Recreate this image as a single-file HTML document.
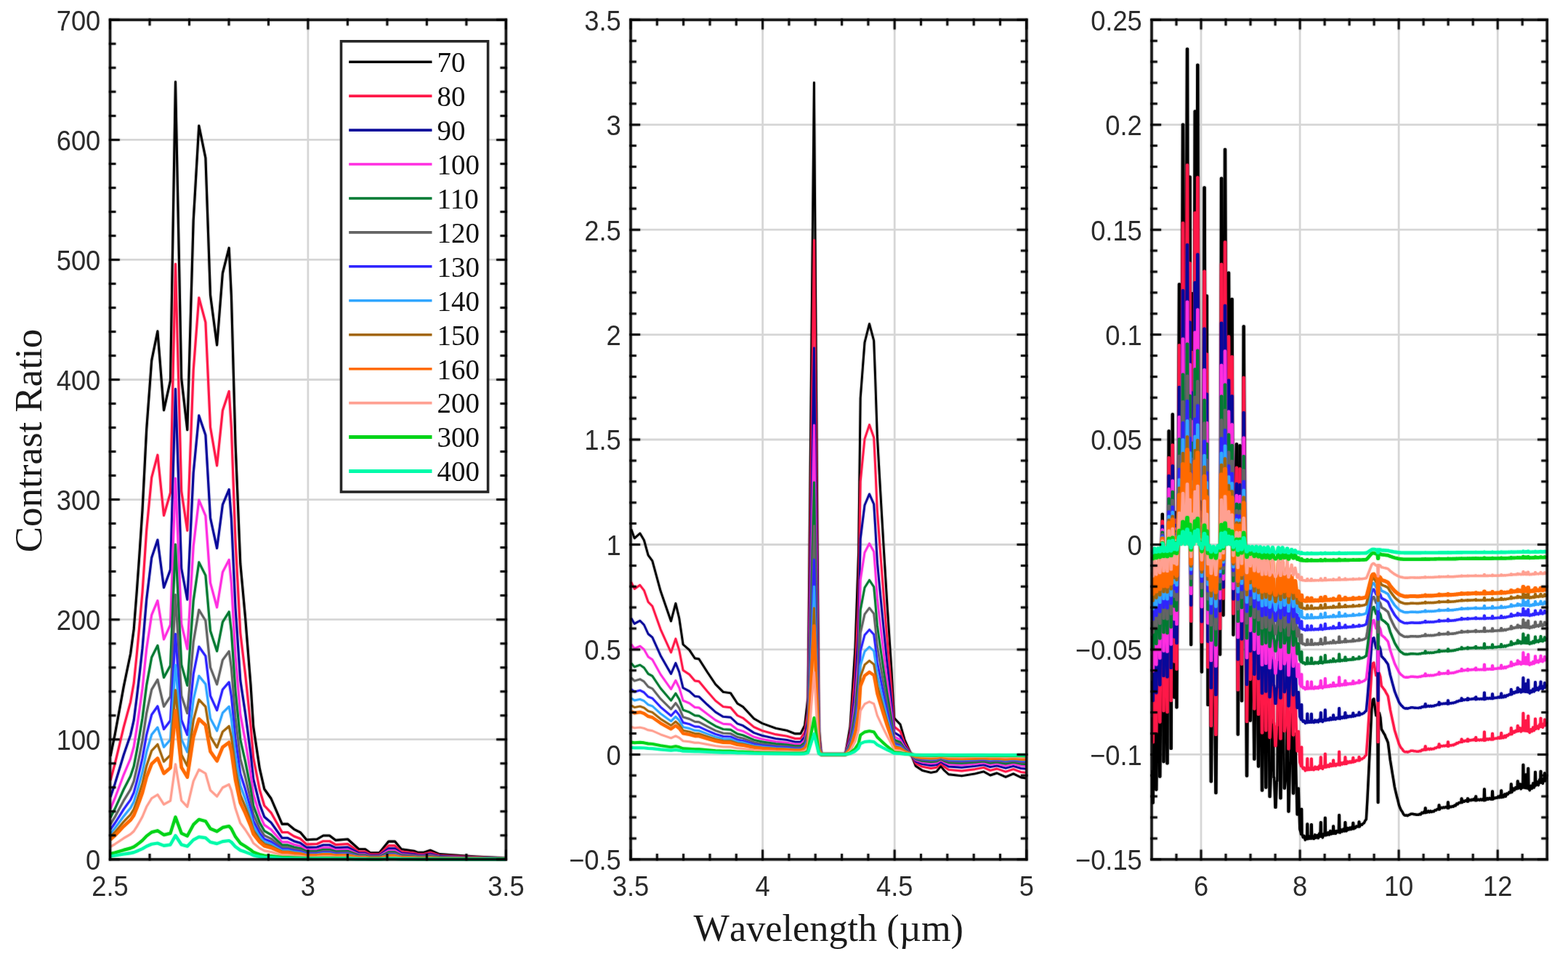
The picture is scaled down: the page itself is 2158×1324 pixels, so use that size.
<!DOCTYPE html>
<html lang="en"><head><meta charset="utf-8"><title>Contrast Ratio vs Wavelength</title>
<style>
html,body{margin:0;padding:0;background:#fff;}
body{width:2158px;height:1324px;overflow:hidden;position:relative;}
svg{position:absolute;left:0;top:0;display:block;}
.fr{filter:drop-shadow(0 0 1px rgba(0,0,0,.55));}
.tk{font-family:"Liberation Sans",Arial,Helvetica,sans-serif;font-size:38px;fill:#2b2b2b;}
.lg{font-family:"Liberation Serif","Times New Roman",Times,serif;font-size:39px;fill:#111;}
.al{font-family:"Liberation Serif","Times New Roman",Times,serif;font-size:53px;fill:#1a1a1a;font-kerning:none;}
.c{fill:none;stroke-linejoin:round;stroke-linecap:butt;}
.g{stroke:#000;stroke-opacity:.16;stroke-width:2.8;fill:none;}
.ax{stroke:#000;stroke-opacity:.84;stroke-width:3.5;fill:none;}
.t{stroke:#000;stroke-opacity:.86;stroke-width:3;fill:none;}
</style></head><body>
<svg width="2158" height="1324" viewBox="0 0 2158 1324">
<rect x="0" y="0" width="2158" height="1324" fill="#ffffff"/>
<path class="g" d="M423.9,27.3V1182.8M151.5,1017.7H696.4M151.5,852.7H696.4M151.5,687.6H696.4M151.5,522.5H696.4M151.5,357.4H696.4M151.5,192.4H696.4"/>
<clipPath id="cp0"><rect x="150.5" y="26.3" width="546.9" height="1159"/></clipPath>
<g class="c" clip-path="url(#cp0)">
<path stroke="#000000" stroke-width="3.1" style="filter:drop-shadow(0 0 1px #00000070)" d="M152,1040.8 158.1,1011.1 164.2,978.1 170.2,945.1 175,922 179.6,900 184.2,865.9 188.3,813.5 192,761.9 196,702.4 201.7,590.7 208.7,496.1 216.9,455.8 225.5,564.6 234.5,523.8 241.5,112.6 249.7,521 257.8,591.7 266.2,303.4 273.8,173 282.9,217.4 289.5,406 298.6,475 306.4,376 315.2,341.2 318.4,407 324,610 330.8,775.7 337.6,849.9 345,942.3 348.7,1000 353,1028.7 357.3,1057.4 363.8,1086 373.1,1099 388.2,1134.1 396.1,1134.1 404.7,1141.3 413.3,1145.6 421.9,1155.7 436.3,1155 444.9,1150 453.5,1150 462.1,1156.4 478.6,1155 493.6,1168.5 502.7,1168.8 509.5,1173.7 522.1,1173.7 534.8,1158.1 543.5,1158.1 552.3,1168.8 569.8,1171.3 574.7,1173.2 583.4,1173.2 592.2,1170.3 604.8,1175.6 626.2,1177.1 655.4,1179 684.6,1180.5 696,1181.5"/>
<path stroke="#ff1848" stroke-width="3.1" style="filter:drop-shadow(0 0 1px #ff184870)" d="M152,1074.1 158.1,1051.4 164.2,1026.1 170.2,1000.8 175,983.1 179.6,966.3 184.2,940.1 188.3,900.1 192,860.5 196,815 201.7,729.5 208.7,657.1 216.9,626.2 225.5,709.5 234.5,678.3 241.5,363.4 249.7,676.1 257.8,730.2 266.2,509.5 273.8,409.7 282.9,443.7 289.5,588.1 298.6,640.9 306.4,565.1 315.2,538.5 318.4,588.8 324,744.3 330.8,871.1 337.6,927.9 345,998.7 348.7,1042.8 353,1064.8 357.3,1086.8 363.8,1108.7 373.1,1118.6 388.2,1145.5 396.1,1145.5 404.7,1151 413.3,1154.3 421.9,1162.1 436.3,1161.5 444.9,1157.7 453.5,1157.7 462.1,1162.6 478.6,1161.5 493.6,1171.9 502.7,1172.1 509.5,1175.8 522.1,1175.8 534.8,1163.9 543.5,1163.9 552.3,1172.1 569.8,1174 574.7,1175.5 583.4,1175.5 592.2,1173.2 604.8,1177.3 626.2,1178.4 655.4,1179.9 684.6,1181 696,1181.8"/>
<path stroke="#08089a" stroke-width="3.1" style="filter:drop-shadow(0 0 1px #08089a70)" d="M152,1096.9 158.1,1078.9 164.2,1059 170.2,1039 175,1025 179.6,1011.7 184.2,991.1 188.3,959.4 192,928.2 196,892.2 201.7,824.6 208.7,767.4 216.9,743 225.5,808.8 234.5,784.1 241.5,535.4 249.7,782.5 257.8,825.2 266.2,650.8 273.8,571.9 282.9,598.8 289.5,712.9 298.6,754.6 306.4,694.7 315.2,673.7 318.4,713.5 324,836.3 330.8,936.6 337.6,981.4 345,1037.3 348.7,1072.2 353,1089.6 357.3,1106.9 363.8,1124.2 373.1,1132.1 388.2,1153.3 396.1,1153.3 404.7,1157.7 413.3,1160.3 421.9,1166.4 436.3,1166 444.9,1163 453.5,1163 462.1,1166.8 478.6,1166 493.6,1174.1 502.7,1174.3 509.5,1177.3 522.1,1177.3 534.8,1167.9 543.5,1167.9 552.3,1174.3 569.8,1175.8 574.7,1177 583.4,1177 592.2,1175.2 604.8,1178.4 626.2,1179.4 655.4,1180.5 684.6,1181.4 696,1182"/>
<path stroke="#ff2ee0" stroke-width="3.1" style="filter:drop-shadow(0 0 1px #ff2ee070)" d="M152,1113.2 158.1,1098.7 164.2,1082.5 170.2,1066.3 175,1055 179.6,1044.2 184.2,1027.5 188.3,1001.9 192,976.5 196,947.4 201.7,892.7 208.7,846.3 216.9,826.6 225.5,879.9 234.5,859.9 241.5,658.4 249.7,858.5 257.8,893.2 266.2,751.9 273.8,688 282.9,709.8 289.5,802.2 298.6,836 306.4,787.5 315.2,770.4 318.4,802.6 324,902.1 330.8,983.3 337.6,1019.7 345,1065 348.7,1093.2 353,1107.3 357.3,1121.4 363.8,1135.4 373.1,1141.7 388.2,1158.9 396.1,1158.9 404.7,1162.5 413.3,1164.6 421.9,1169.5 436.3,1169.2 444.9,1166.7 453.5,1166.7 462.1,1169.9 478.6,1169.2 493.6,1175.8 502.7,1175.9 509.5,1178.3 522.1,1178.3 534.8,1170.7 543.5,1170.7 552.3,1175.9 569.8,1177.2 574.7,1178.1 583.4,1178.1 592.2,1176.7 604.8,1179.3 626.2,1180 655.4,1180.9 684.6,1181.7 696,1182.2"/>
<path stroke="#007a32" stroke-width="3.1" style="filter:drop-shadow(0 0 1px #007a3270)" d="M152,1125.3 158.1,1113.3 164.2,1099.9 170.2,1086.5 175,1077.2 179.6,1068.3 184.2,1054.5 188.3,1033.3 192,1012.3 196,988.3 201.7,943 208.7,904.7 216.9,888.4 225.5,932.5 234.5,915.9 241.5,749.4 249.7,914.8 257.8,943.4 266.2,826.7 273.8,773.9 282.9,791.9 289.5,868.2 298.6,896.2 306.4,856.1 315.2,842 318.4,868.6 324,950.8 330.8,1018 337.6,1048 345,1085.4 348.7,1108.8 353,1120.4 357.3,1132 363.8,1143.6 373.1,1148.9 388.2,1163.1 396.1,1163.1 404.7,1166 413.3,1167.7 421.9,1171.8 436.3,1171.5 444.9,1169.5 453.5,1169.5 462.1,1172.1 478.6,1171.5 493.6,1177 502.7,1177.1 509.5,1179.1 522.1,1179.1 534.8,1172.8 543.5,1172.8 552.3,1177.1 569.8,1178.1 574.7,1178.9 583.4,1178.9 592.2,1177.7 604.8,1179.9 626.2,1180.5 655.4,1181.3 684.6,1181.9 696,1182.3"/>
<path stroke="#646464" stroke-width="3.1" style="filter:drop-shadow(0 0 1px #64646470)" d="M152,1134.5 158.1,1124.4 164.2,1113.1 170.2,1101.9 175,1094.1 179.6,1086.6 184.2,1075 188.3,1057.1 192,1039.6 196,1019.3 201.7,981.3 208.7,949.1 216.9,935.4 225.5,972.4 234.5,958.6 241.5,818.6 249.7,957.6 257.8,981.7 266.2,883.6 273.8,839.2 282.9,854.3 289.5,918.5 298.6,942 306.4,908.3 315.2,896.4 318.4,918.8 324,987.9 330.8,1044.3 337.6,1069.5 345,1101 348.7,1120.6 353,1130.4 357.3,1140.1 363.8,1149.9 373.1,1154.3 388.2,1166.2 396.1,1166.2 404.7,1168.7 413.3,1170.1 421.9,1173.6 436.3,1173.3 444.9,1171.6 453.5,1171.6 462.1,1173.8 478.6,1173.3 493.6,1177.9 502.7,1178 509.5,1179.7 522.1,1179.7 534.8,1174.4 543.5,1174.4 552.3,1178 569.8,1178.9 574.7,1179.5 583.4,1179.5 592.2,1178.5 604.8,1180.3 626.2,1180.9 655.4,1181.5 684.6,1182 696,1182.4"/>
<path stroke="#2e24ff" stroke-width="3.1" style="filter:drop-shadow(0 0 1px #2e24ff70)" d="M152,1141.6 158.1,1133 164.2,1123.5 170.2,1113.9 175,1107.2 179.6,1100.8 184.2,1090.9 188.3,1075.7 192,1060.8 196,1043.5 201.7,1011.1 208.7,983.7 216.9,972 225.5,1003.6 234.5,991.7 241.5,872.5 249.7,990.9 257.8,1011.4 266.2,927.8 273.8,890 282.9,902.9 289.5,957.6 298.6,977.6 306.4,948.9 315.2,938.8 318.4,957.9 324,1016.7 330.8,1064.8 337.6,1086.3 345,1113.1 348.7,1129.8 353,1138.1 357.3,1146.4 363.8,1154.7 373.1,1158.5 388.2,1168.7 396.1,1168.7 404.7,1170.8 413.3,1172 421.9,1174.9 436.3,1174.7 444.9,1173.3 453.5,1173.3 462.1,1175.1 478.6,1174.7 493.6,1178.7 502.7,1178.7 509.5,1180.2 522.1,1180.2 534.8,1175.6 543.5,1175.6 552.3,1178.7 569.8,1179.5 574.7,1180 583.4,1180 592.2,1179.2 604.8,1180.7 626.2,1181.1 655.4,1181.7 684.6,1182.1 696,1182.4"/>
<path stroke="#30a6ff" stroke-width="3.1" style="filter:drop-shadow(0 0 1px #30a6ff70)" d="M152,1147.3 158.1,1139.9 164.2,1131.6 170.2,1123.4 175,1117.6 179.6,1112.1 184.2,1103.6 188.3,1090.5 192,1077.6 196,1062.7 201.7,1034.8 208.7,1011.1 216.9,1001.1 225.5,1028.2 234.5,1018 241.5,915.2 249.7,1017.3 257.8,1035 266.2,962.9 273.8,930.3 282.9,941.4 289.5,988.6 298.6,1005.8 306.4,981.1 315.2,972.4 318.4,988.8 324,1039.6 330.8,1081 337.6,1099.6 345,1122.7 348.7,1137.1 353,1144.3 357.3,1151.5 363.8,1158.6 373.1,1161.8 388.2,1170.6 396.1,1170.6 404.7,1172.4 413.3,1173.5 421.9,1176 436.3,1175.8 444.9,1174.6 453.5,1174.6 462.1,1176.2 478.6,1175.8 493.6,1179.2 502.7,1179.3 509.5,1180.5 522.1,1180.5 534.8,1176.6 543.5,1176.6 552.3,1179.3 569.8,1179.9 574.7,1180.4 583.4,1180.4 592.2,1179.7 604.8,1181 626.2,1181.4 655.4,1181.8 684.6,1182.2 696,1182.5"/>
<path stroke="#a2660c" stroke-width="3.1" style="filter:drop-shadow(0 0 1px #a2660c70)" d="M152,1151.9 158.1,1145.4 164.2,1138.2 170.2,1131 175,1126 179.6,1121.2 184.2,1113.8 188.3,1102.4 192,1091.1 196,1078.2 201.7,1053.9 208.7,1033.3 216.9,1024.5 225.5,1048.2 234.5,1039.3 241.5,949.7 249.7,1038.7 257.8,1054.1 266.2,991.3 273.8,962.9 282.9,972.6 289.5,1013.6 298.6,1028.7 306.4,1007.1 315.2,999.5 318.4,1013.8 324,1058.1 330.8,1094.2 337.6,1110.3 345,1130.4 348.7,1143 353,1149.2 357.3,1155.5 363.8,1161.7 373.1,1164.6 388.2,1172.2 396.1,1172.2 404.7,1173.8 413.3,1174.7 421.9,1176.9 436.3,1176.7 444.9,1175.7 453.5,1175.7 462.1,1177.1 478.6,1176.7 493.6,1179.7 502.7,1179.8 509.5,1180.8 522.1,1180.8 534.8,1177.4 543.5,1177.4 552.3,1179.8 569.8,1180.3 574.7,1180.7 583.4,1180.7 592.2,1180.1 604.8,1181.2 626.2,1181.6 655.4,1182 684.6,1182.3 696,1182.5"/>
<path stroke="#ff6a00" stroke-width="4.5" style="filter:drop-shadow(0 0 1px #ff6a0070)" d="M152,1155.6 158.1,1149.9 164.2,1143.6 170.2,1137.3 175,1132.9 179.6,1128.7 184.2,1122.1 188.3,1112.1 192,1102.2 196,1090.9 201.7,1069.5 208.7,1051.4 216.9,1043.7 225.5,1064.5 234.5,1056.7 241.5,978 249.7,1056.1 257.8,1069.7 266.2,1014.5 273.8,989.5 282.9,998 289.5,1034.1 298.6,1047.3 306.4,1028.4 315.2,1021.7 318.4,1034.3 324,1073.2 330.8,1104.9 337.6,1119.1 345,1136.8 348.7,1147.8 353,1153.3 357.3,1158.8 363.8,1164.3 373.1,1166.8 388.2,1173.5 396.1,1173.5 404.7,1174.9 413.3,1175.7 421.9,1177.6 436.3,1177.5 444.9,1176.5 453.5,1176.5 462.1,1177.7 478.6,1177.5 493.6,1180.1 502.7,1180.1 509.5,1181.1 522.1,1181.1 534.8,1178.1 543.5,1178.1 552.3,1180.1 569.8,1180.6 574.7,1181 583.4,1181 592.2,1180.4 604.8,1181.4 626.2,1181.7 655.4,1182.1 684.6,1182.4 696,1182.6"/>
<path stroke="#ffa091" stroke-width="3.1" style="filter:drop-shadow(0 0 1px #ffa09170)" d="M152,1165.4 158.1,1161.8 164.2,1157.7 170.2,1153.7 175,1150.9 179.6,1148.2 184.2,1144 188.3,1137.6 192,1131.2 196,1124 201.7,1110.3 208.7,1098.7 216.9,1093.7 225.5,1107.1 234.5,1102.1 241.5,1051.7 249.7,1101.7 257.8,1110.4 266.2,1075.1 273.8,1059.1 282.9,1064.5 289.5,1087.6 298.6,1096.1 306.4,1084 315.2,1079.7 318.4,1087.8 324,1112.6 330.8,1132.9 337.6,1142 345,1153.3 348.7,1160.4 353,1163.9 357.3,1167.4 363.8,1170.9 373.1,1172.5 388.2,1176.8 396.1,1176.8 404.7,1177.7 413.3,1178.2 421.9,1179.5 436.3,1179.4 444.9,1178.8 453.5,1178.8 462.1,1179.6 478.6,1179.4 493.6,1181 502.7,1181.1 509.5,1181.7 522.1,1181.7 534.8,1179.8 543.5,1179.8 552.3,1181.1 569.8,1181.4 574.7,1181.6 583.4,1181.6 592.2,1181.3 604.8,1181.9 626.2,1182.1 655.4,1182.3 684.6,1182.5 696,1182.6"/>
<path stroke="#00d418" stroke-width="4.2" style="filter:drop-shadow(0 0 1px #00d41870)" d="M152,1175.1 158.1,1173.5 164.2,1171.7 170.2,1169.9 175,1168.6 179.6,1167.4 184.2,1165.5 188.3,1162.7 192,1159.9 196,1156.6 201.7,1150.6 208.7,1145.4 216.9,1143.2 225.5,1149.1 234.5,1146.9 241.5,1124.5 249.7,1146.8 257.8,1150.6 266.2,1134.9 273.8,1127.8 282.9,1130.2 289.5,1140.5 298.6,1144.3 306.4,1138.9 315.2,1137 318.4,1140.6 324,1151.6 330.8,1160.6 337.6,1164.7 345,1169.7 348.7,1172.8 353,1174.4 357.3,1176 363.8,1177.5 373.1,1178.2 388.2,1180.1 396.1,1180.1 404.7,1180.5 413.3,1180.8 421.9,1181.3 436.3,1181.3 444.9,1181 453.5,1181 462.1,1181.4 478.6,1181.3 493.6,1182 502.7,1182 509.5,1182.3 522.1,1182.3 534.8,1181.5 543.5,1181.5 552.3,1182 569.8,1182.2 574.7,1182.3 583.4,1182.3 592.2,1182.1 604.8,1182.4 626.2,1182.5 655.4,1182.6 684.6,1182.7 696,1182.7"/>
<path stroke="#00fbaa" stroke-width="4.2" style="filter:drop-shadow(0 0 1px #00fbaa70)" d="M152,1178.5 158.1,1177.5 164.2,1176.5 170.2,1175.5 175,1174.8 179.6,1174.1 184.2,1173.1 188.3,1171.5 192,1169.9 196,1168.1 201.7,1164.7 208.7,1161.8 216.9,1160.5 225.5,1163.9 234.5,1162.6 241.5,1150 249.7,1162.5 257.8,1164.7 266.2,1155.9 273.8,1151.9 282.9,1153.2 289.5,1159 298.6,1161.1 306.4,1158.1 315.2,1157 318.4,1159 324,1165.3 330.8,1170.3 337.6,1172.6 345,1175.4 348.7,1177.2 353,1178.1 357.3,1179 363.8,1179.8 373.1,1180.2 388.2,1181.3 396.1,1181.3 404.7,1181.5 413.3,1181.7 421.9,1182 436.3,1181.9 444.9,1181.8 453.5,1181.8 462.1,1182 478.6,1181.9 493.6,1182.4 502.7,1182.4 509.5,1182.5 522.1,1182.5 534.8,1182 543.5,1182 552.3,1182.4 569.8,1182.4 574.7,1182.5 583.4,1182.5 592.2,1182.4 604.8,1182.6 626.2,1182.6 655.4,1182.7 684.6,1182.7 696,1182.8"/>
</g>
<g class="fr"><path class="t" d="M151.5,1184.5v-14.9M151.5,25.6v14.9M206,1184.5v-9.6M206,25.6v9.6M260.5,1184.5v-9.6M260.5,25.6v9.6M315,1184.5v-9.6M315,25.6v9.6M369.5,1184.5v-9.6M369.5,25.6v9.6M423.9,1184.5v-14.9M423.9,25.6v14.9M478.4,1184.5v-9.6M478.4,25.6v9.6M532.9,1184.5v-9.6M532.9,25.6v9.6M587.4,1184.5v-9.6M587.4,25.6v9.6M641.9,1184.5v-9.6M641.9,25.6v9.6M696.4,1184.5v-14.9M696.4,25.6v14.9M149.8,1182.8h14.9M698.1,1182.8h-14.9M149.8,1149.8h9.6M698.1,1149.8h-9.6M149.8,1116.8h9.6M698.1,1116.8h-9.6M149.8,1083.8h9.6M698.1,1083.8h-9.6M149.8,1050.7h9.6M698.1,1050.7h-9.6M149.8,1017.7h14.9M698.1,1017.7h-14.9M149.8,984.7h9.6M698.1,984.7h-9.6M149.8,951.7h9.6M698.1,951.7h-9.6M149.8,918.7h9.6M698.1,918.7h-9.6M149.8,885.7h9.6M698.1,885.7h-9.6M149.8,852.7h14.9M698.1,852.7h-14.9M149.8,819.6h9.6M698.1,819.6h-9.6M149.8,786.6h9.6M698.1,786.6h-9.6M149.8,753.6h9.6M698.1,753.6h-9.6M149.8,720.6h9.6M698.1,720.6h-9.6M149.8,687.6h14.9M698.1,687.6h-14.9M149.8,654.6h9.6M698.1,654.6h-9.6M149.8,621.6h9.6M698.1,621.6h-9.6M149.8,588.5h9.6M698.1,588.5h-9.6M149.8,555.5h9.6M698.1,555.5h-9.6M149.8,522.5h14.9M698.1,522.5h-14.9M149.8,489.5h9.6M698.1,489.5h-9.6M149.8,456.5h9.6M698.1,456.5h-9.6M149.8,423.5h9.6M698.1,423.5h-9.6M149.8,390.5h9.6M698.1,390.5h-9.6M149.8,357.4h14.9M698.1,357.4h-14.9M149.8,324.4h9.6M698.1,324.4h-9.6M149.8,291.4h9.6M698.1,291.4h-9.6M149.8,258.4h9.6M698.1,258.4h-9.6M149.8,225.4h9.6M698.1,225.4h-9.6M149.8,192.4h14.9M698.1,192.4h-14.9M149.8,159.4h9.6M698.1,159.4h-9.6M149.8,126.3h9.6M698.1,126.3h-9.6M149.8,93.3h9.6M698.1,93.3h-9.6M149.8,60.3h9.6M698.1,60.3h-9.6M149.8,27.3h14.9M698.1,27.3h-14.9"/>
<rect class="ax" x="151.5" y="27.3" width="544.9" height="1155.5"/></g>
<text class="tk" text-anchor="middle" transform="translate(151.5,1232.7) scale(.955,1)">2.5</text>
<text class="tk" text-anchor="middle" transform="translate(423.9,1232.7) scale(.955,1)">3</text>
<text class="tk" text-anchor="middle" transform="translate(696.4,1232.7) scale(.955,1)">3.5</text>
<text class="tk" text-anchor="end" transform="translate(138.3,1197.1) scale(.955,1)">0</text>
<text class="tk" text-anchor="end" transform="translate(138.3,1032) scale(.955,1)">100</text>
<text class="tk" text-anchor="end" transform="translate(138.3,867) scale(.955,1)">200</text>
<text class="tk" text-anchor="end" transform="translate(138.3,701.9) scale(.955,1)">300</text>
<text class="tk" text-anchor="end" transform="translate(138.3,536.8) scale(.955,1)">400</text>
<text class="tk" text-anchor="end" transform="translate(138.3,371.7) scale(.955,1)">500</text>
<text class="tk" text-anchor="end" transform="translate(138.3,206.7) scale(.955,1)">600</text>
<text class="tk" text-anchor="end" transform="translate(138.3,41.6) scale(.955,1)">700</text>
<path class="g" d="M1049.6,27.3V1182.8M1231.2,27.3V1182.8M868,1038.4H1412.8M868,893.9H1412.8M868,749.5H1412.8M868,605H1412.8M868,460.6H1412.8M868,316.2H1412.8M868,171.7H1412.8"/>
<clipPath id="cp1"><rect x="867" y="26.3" width="546.8" height="1159"/></clipPath>
<g class="c" clip-path="url(#cp1)">
<path stroke="#000000" stroke-width="2.9" style="filter:drop-shadow(0 0 1px #00000070)" d="M868.7,728.3 873.2,740.8 880.8,734 886.4,743.5 892.1,764.2 897.8,771.8 909.1,813.3 923.5,855 929.9,830.4 934.8,851 940.1,887 948.8,894.6 956.3,906 962,907 973.3,924.8 984.7,941.8 995.3,952.4 1005.5,953.9 1014.9,968.3 1022.5,972.8 1037.6,989 1048.9,995.5 1067.8,1002.3 1082.9,1005.3 1094.3,1009.8 1101.8,1009.8 1107.5,998.5 1112,960 1120.4,113.6 1127,1000 1130.2,1038.2 1163.5,1038 1170,1000 1177,891 1181.6,760 1184.2,548 1190,471.3 1196.5,445.7 1202.7,468.8 1204.7,522.7 1207.3,599.7 1211.7,676.7 1216,750 1220.9,830.7 1226.9,921 1230.6,987.8 1233,990.8 1239,996.9 1245,1018 1254.1,1038.3 1260.2,1054.3 1269.2,1060.3 1281.3,1063.4 1288.9,1061.8 1294.9,1054.3 1299.5,1060.3 1305.5,1065.8 1323.6,1067.9 1341.8,1064.9 1353.9,1061.9 1362.9,1067 1372,1064 1384.1,1069.4 1394.7,1064.9 1405.2,1070 1412,1071"/>
<path stroke="#ff1848" stroke-width="2.9" style="filter:drop-shadow(0 0 1px #ff184870)" d="M868.7,801 873.2,810.5 880.8,805.3 886.4,812.6 892.1,828.5 897.8,834.3 909.1,866.1 923.5,898 929.9,879.1 934.8,894.9 940.1,922.5 948.8,928.3 956.3,937 962,937.8 973.3,951.4 984.7,964.4 995.3,972.6 1005.5,973.7 1014.9,984.7 1022.5,988.2 1037.6,1000.6 1048.9,1005.6 1067.8,1010.8 1082.9,1013.1 1094.3,1016.5 1101.8,1016.5 1107.5,1007.9 1112,978.4 1120.4,330.4 1127,1009 1130.2,1038.2 1163.5,1038.1 1170,1009 1177,925.5 1181.6,825.2 1184.2,662.9 1190,604.2 1196.5,584.6 1202.7,602.3 1204.7,643.6 1207.3,702.5 1211.7,761.5 1216,817.6 1220.9,879.4 1226.9,948.5 1230.6,999.7 1233,1002 1239,1006.6 1245,1022.8 1254.1,1038.3 1260.2,1050.6 1269.2,1055.2 1281.3,1057.5 1288.9,1056.3 1294.9,1050.6 1299.5,1055.2 1305.5,1059.4 1323.6,1061 1341.8,1058.7 1353.9,1056.4 1362.9,1060.3 1372,1058 1384.1,1062.1 1394.7,1058.7 1405.2,1062.6 1412,1063.4"/>
<path stroke="#08089a" stroke-width="2.9" style="filter:drop-shadow(0 0 1px #08089a70)" d="M868.7,850.8 873.2,858.4 880.8,854.3 886.4,860 892.1,872.5 897.8,877.1 909.1,902.2 923.5,927.5 929.9,912.6 934.8,925 940.1,946.8 948.8,951.4 956.3,958.3 962,958.9 973.3,969.7 984.7,980 995.3,986.4 1005.5,987.3 1014.9,996 1022.5,998.7 1037.6,1008.5 1048.9,1012.4 1067.8,1016.6 1082.9,1018.4 1094.3,1021.1 1101.8,1021.1 1107.5,1014.3 1112,991 1120.4,479 1127,1015.2 1130.2,1038.3 1163.5,1038.2 1170,1015.2 1177,949.2 1181.6,870 1184.2,741.7 1190,695.3 1196.5,679.9 1202.7,693.8 1204.7,726.4 1207.3,773 1211.7,819.6 1216,863.9 1220.9,912.8 1226.9,967.4 1230.6,1007.8 1233,1009.6 1239,1013.3 1245,1026.1 1254.1,1038.3 1260.2,1048 1269.2,1051.6 1281.3,1053.5 1288.9,1052.6 1294.9,1048 1299.5,1051.6 1305.5,1055 1323.6,1056.2 1341.8,1054.4 1353.9,1052.6 1362.9,1055.7 1372,1053.9 1384.1,1057.2 1394.7,1054.4 1405.2,1057.5 1412,1058.1"/>
<path stroke="#ff2ee0" stroke-width="2.9" style="filter:drop-shadow(0 0 1px #ff2ee070)" d="M868.7,886.5 873.2,892.6 880.8,889.2 886.4,893.9 892.1,904 897.8,907.8 909.1,928.1 923.5,948.5 929.9,936.5 934.8,946.6 940.1,964.2 948.8,967.9 956.3,973.5 962,974 973.3,982.7 984.7,991.1 995.3,996.3 1005.5,997 1014.9,1004.1 1022.5,1006.3 1037.6,1014.2 1048.9,1017.4 1067.8,1020.7 1082.9,1022.2 1094.3,1024.4 1101.8,1024.4 1107.5,1018.8 1112,1000 1120.4,585.2 1127,1019.6 1130.2,1038.3 1163.5,1038.2 1170,1019.6 1177,966.2 1181.6,902 1184.2,798.1 1190,760.5 1196.5,748 1202.7,759.3 1204.7,785.7 1207.3,823.4 1211.7,861.2 1216,897.1 1220.9,936.6 1226.9,980.9 1230.6,1013.6 1233,1015.1 1239,1018.1 1245,1028.4 1254.1,1038.4 1260.2,1046.2 1269.2,1049.1 1281.3,1050.7 1288.9,1049.9 1294.9,1046.2 1299.5,1049.1 1305.5,1051.8 1323.6,1052.9 1341.8,1051.4 1353.9,1049.9 1362.9,1052.4 1372,1050.9 1384.1,1053.6 1394.7,1051.4 1405.2,1053.9 1412,1054.4"/>
<path stroke="#007a32" stroke-width="2.9" style="filter:drop-shadow(0 0 1px #007a3270)" d="M868.7,912.8 873.2,917.9 880.8,915.1 886.4,919 892.1,927.4 897.8,930.4 909.1,947.2 923.5,964.1 929.9,954.2 934.8,962.5 940.1,977.1 948.8,980.2 956.3,984.8 962,985.2 973.3,992.4 984.7,999.3 995.3,1003.6 1005.5,1004.2 1014.9,1010 1022.5,1011.8 1037.6,1018.4 1048.9,1021 1067.8,1023.8 1082.9,1025 1094.3,1026.8 1101.8,1026.8 1107.5,1022.2 1112,1006.7 1120.4,663.9 1127,1022.8 1130.2,1038.3 1163.5,1038.2 1170,1022.8 1177,978.7 1181.6,925.7 1184.2,839.8 1190,808.7 1196.5,798.4 1202.7,807.7 1204.7,829.6 1207.3,860.7 1211.7,891.9 1216,921.6 1220.9,954.3 1226.9,990.9 1230.6,1017.9 1233,1019.1 1239,1021.6 1245,1030.1 1254.1,1038.4 1260.2,1044.8 1269.2,1047.3 1281.3,1048.5 1288.9,1047.9 1294.9,1044.8 1299.5,1047.3 1305.5,1049.5 1323.6,1050.3 1341.8,1049.1 1353.9,1047.9 1362.9,1050 1372,1048.8 1384.1,1051 1394.7,1049.1 1405.2,1051.2 1412,1051.6"/>
<path stroke="#646464" stroke-width="2.9" style="filter:drop-shadow(0 0 1px #64646470)" d="M868.7,932.9 873.2,937.1 880.8,934.8 886.4,938.1 892.1,945.1 897.8,947.7 909.1,961.8 923.5,976 929.9,967.6 934.8,974.6 940.1,986.9 948.8,989.5 956.3,993.3 962,993.7 973.3,999.7 984.7,1005.5 995.3,1009.1 1005.5,1009.6 1014.9,1014.5 1022.5,1016.1 1037.6,1021.6 1048.9,1023.8 1067.8,1026.1 1082.9,1027.1 1094.3,1028.7 1101.8,1028.7 1107.5,1024.8 1112,1011.7 1120.4,723.7 1127,1025.3 1130.2,1038.3 1163.5,1038.3 1170,1025.3 1177,988.2 1181.6,943.7 1184.2,871.5 1190,845.4 1196.5,836.7 1202.7,844.6 1204.7,862.9 1207.3,889.1 1211.7,915.3 1216,940.3 1220.9,967.7 1226.9,998.5 1230.6,1021.2 1233,1022.2 1239,1024.3 1245,1031.5 1254.1,1038.4 1260.2,1043.8 1269.2,1045.9 1281.3,1046.9 1288.9,1046.4 1294.9,1043.8 1299.5,1045.9 1305.5,1047.7 1323.6,1048.4 1341.8,1047.4 1353.9,1046.4 1362.9,1048.1 1372,1047.1 1384.1,1048.9 1394.7,1047.4 1405.2,1049.2 1412,1049.5"/>
<path stroke="#2e24ff" stroke-width="2.9" style="filter:drop-shadow(0 0 1px #2e24ff70)" d="M868.7,948.5 873.2,952.1 880.8,950.1 886.4,952.9 892.1,958.9 897.8,961.1 909.1,973.1 923.5,985.2 929.9,978.1 934.8,984.1 940.1,994.5 948.8,996.7 956.3,1000 962,1000.3 973.3,1005.5 984.7,1010.4 995.3,1013.5 1005.5,1013.9 1014.9,1018.1 1022.5,1019.4 1037.6,1024.1 1048.9,1026 1067.8,1027.9 1082.9,1028.8 1094.3,1030.1 1101.8,1030.1 1107.5,1026.8 1112,1015.7 1120.4,770.3 1127,1027.3 1130.2,1038.3 1163.5,1038.3 1170,1027.3 1177,995.7 1181.6,957.7 1184.2,896.2 1190,874 1196.5,866.6 1202.7,873.2 1204.7,888.9 1207.3,911.2 1211.7,933.5 1216,954.8 1220.9,978.2 1226.9,1004.4 1230.6,1023.7 1233,1024.6 1239,1026.4 1245,1032.5 1254.1,1038.4 1260.2,1043 1269.2,1044.7 1281.3,1045.6 1288.9,1045.2 1294.9,1043 1299.5,1044.7 1305.5,1046.3 1323.6,1047 1341.8,1046.1 1353.9,1045.2 1362.9,1046.7 1372,1045.8 1384.1,1047.4 1394.7,1046.1 1405.2,1047.6 1412,1047.9"/>
<path stroke="#30a6ff" stroke-width="2.9" style="filter:drop-shadow(0 0 1px #30a6ff70)" d="M868.7,960.9 873.2,964 880.8,962.3 886.4,964.7 892.1,969.9 897.8,971.8 909.1,982.1 923.5,992.6 929.9,986.4 934.8,991.6 940.1,1000.6 948.8,1002.5 956.3,1005.3 962,1005.6 973.3,1010 984.7,1014.2 995.3,1016.9 1005.5,1017.3 1014.9,1020.9 1022.5,1022 1037.6,1026.1 1048.9,1027.7 1067.8,1029.4 1082.9,1030.1 1094.3,1031.2 1101.8,1031.2 1107.5,1028.4 1112,1018.8 1120.4,807.2 1127,1028.8 1130.2,1038.4 1163.5,1038.3 1170,1028.8 1177,1001.6 1181.6,968.8 1184.2,915.8 1190,896.6 1196.5,890.2 1202.7,896 1204.7,909.5 1207.3,928.7 1211.7,948 1216,966.3 1220.9,986.5 1226.9,1009.1 1230.6,1025.8 1233,1026.5 1239,1028 1245,1033.3 1254.1,1038.4 1260.2,1042.4 1269.2,1043.9 1281.3,1044.7 1288.9,1044.2 1294.9,1042.4 1299.5,1043.9 1305.5,1045.2 1323.6,1045.8 1341.8,1045 1353.9,1044.3 1362.9,1045.6 1372,1044.8 1384.1,1046.2 1394.7,1045 1405.2,1046.3 1412,1046.6"/>
<path stroke="#a2660c" stroke-width="2.9" style="filter:drop-shadow(0 0 1px #a2660c70)" d="M868.7,970.9 873.2,973.6 880.8,972.1 886.4,974.2 892.1,978.7 897.8,980.3 909.1,989.4 923.5,998.5 929.9,993.1 934.8,997.6 940.1,1005.4 948.8,1007.1 956.3,1009.6 962,1009.8 973.3,1013.7 984.7,1017.4 995.3,1019.7 1005.5,1020 1014.9,1023.1 1022.5,1024.1 1037.6,1027.6 1048.9,1029.1 1067.8,1030.5 1082.9,1031.2 1094.3,1032.2 1101.8,1032.2 1107.5,1029.7 1112,1021.3 1120.4,837 1127,1030 1130.2,1038.4 1163.5,1038.3 1170,1030 1177,1006.3 1181.6,977.8 1184.2,931.6 1190,914.9 1196.5,909.3 1202.7,914.4 1204.7,926.1 1207.3,942.9 1211.7,959.6 1216,975.6 1220.9,993.2 1226.9,1012.8 1230.6,1027.4 1233,1028 1239,1029.4 1245,1034 1254.1,1038.4 1260.2,1041.9 1269.2,1043.2 1281.3,1043.8 1288.9,1043.5 1294.9,1041.9 1299.5,1043.2 1305.5,1044.4 1323.6,1044.8 1341.8,1044.2 1353.9,1043.5 1362.9,1044.6 1372,1044 1384.1,1045.2 1394.7,1044.2 1405.2,1045.3 1412,1045.5"/>
<path stroke="#ff6a00" stroke-width="4.2" style="filter:drop-shadow(0 0 1px #ff6a0070)" d="M868.7,979 873.2,981.4 880.8,980.1 886.4,982 892.1,985.9 897.8,987.4 909.1,995.3 923.5,1003.3 929.9,998.6 934.8,1002.5 940.1,1009.4 948.8,1010.9 956.3,1013.1 962,1013.2 973.3,1016.7 984.7,1019.9 995.3,1021.9 1005.5,1022.2 1014.9,1025 1022.5,1025.8 1037.6,1028.9 1048.9,1030.2 1067.8,1031.5 1082.9,1032.1 1094.3,1032.9 1101.8,1032.9 1107.5,1030.8 1112,1023.4 1120.4,861.4 1127,1031.1 1130.2,1038.4 1163.5,1038.3 1170,1031.1 1177,1010.2 1181.6,985.1 1184.2,944.5 1190,929.9 1196.5,925 1202.7,929.4 1204.7,939.7 1207.3,954.4 1211.7,969.2 1216,983.2 1220.9,998.6 1226.9,1015.9 1230.6,1028.7 1233,1029.3 1239,1030.5 1245,1034.5 1254.1,1038.4 1260.2,1041.4 1269.2,1042.6 1281.3,1043.2 1288.9,1042.9 1294.9,1041.4 1299.5,1042.6 1305.5,1043.6 1323.6,1044 1341.8,1043.5 1353.9,1042.9 1362.9,1043.9 1372,1043.3 1384.1,1044.3 1394.7,1043.5 1405.2,1044.4 1412,1044.6"/>
<path stroke="#ffa091" stroke-width="2.9" style="filter:drop-shadow(0 0 1px #ffa09170)" d="M868.7,1000.4 873.2,1001.9 880.8,1001.1 886.4,1002.3 892.1,1004.8 897.8,1005.7 909.1,1010.8 923.5,1015.9 929.9,1012.9 934.8,1015.4 940.1,1019.9 948.8,1020.8 956.3,1022.2 962,1022.3 973.3,1024.5 984.7,1026.6 995.3,1027.9 1005.5,1028 1014.9,1029.8 1022.5,1030.4 1037.6,1032.3 1048.9,1033.1 1067.8,1034 1082.9,1034.3 1094.3,1034.9 1101.8,1034.9 1107.5,1033.5 1112,1028.8 1120.4,925.1 1127,1033.7 1130.2,1038.4 1163.5,1038.4 1170,1033.7 1177,1020.3 1181.6,1004.3 1184.2,978.3 1190,968.9 1196.5,965.8 1202.7,968.6 1204.7,975.2 1207.3,984.7 1211.7,994.1 1216,1003.1 1220.9,1013 1226.9,1024 1230.6,1032.2 1233,1032.6 1239,1033.3 1245,1035.9 1254.1,1038.4 1260.2,1040.3 1269.2,1041.1 1281.3,1041.5 1288.9,1041.3 1294.9,1040.3 1299.5,1041.1 1305.5,1041.8 1323.6,1042 1341.8,1041.6 1353.9,1041.3 1362.9,1041.9 1372,1041.5 1384.1,1042.2 1394.7,1041.6 1405.2,1042.3 1412,1042.4"/>
<path stroke="#00d418" stroke-width="3.9" style="filter:drop-shadow(0 0 1px #00d41870)" d="M868.7,1021.5 873.2,1022.2 880.8,1021.8 886.4,1022.3 892.1,1023.5 897.8,1023.9 909.1,1026.1 923.5,1028.4 929.9,1027.1 934.8,1028.2 940.1,1030.2 948.8,1030.6 956.3,1031.2 962,1031.2 973.3,1032.2 984.7,1033.1 995.3,1033.7 1005.5,1033.8 1014.9,1034.6 1022.5,1034.8 1037.6,1035.7 1048.9,1036.1 1067.8,1036.4 1082.9,1036.6 1094.3,1036.8 1101.8,1036.8 1107.5,1036.2 1112,1034.1 1120.4,988 1127,1036.3 1130.2,1038.4 1163.5,1038.4 1170,1036.3 1177,1030.4 1181.6,1023.2 1184.2,1011.7 1190,1007.5 1196.5,1006.1 1202.7,1007.4 1204.7,1010.3 1207.3,1014.5 1211.7,1018.7 1216,1022.7 1220.9,1027.1 1226.9,1032 1230.6,1035.6 1233,1035.8 1239,1036.1 1245,1037.3 1254.1,1038.4 1260.2,1039.3 1269.2,1039.6 1281.3,1039.8 1288.9,1039.7 1294.9,1039.3 1299.5,1039.6 1305.5,1039.9 1323.6,1040 1341.8,1039.8 1353.9,1039.7 1362.9,1040 1372,1039.8 1384.1,1040.1 1394.7,1039.8 1405.2,1040.1 1412,1040.2"/>
<path stroke="#00fbaa" stroke-width="3.9" style="filter:drop-shadow(0 0 1px #00fbaa70)" d="M868.7,1028.9 873.2,1029.3 880.8,1029.1 886.4,1029.4 892.1,1030 897.8,1030.2 909.1,1031.5 923.5,1032.8 929.9,1032 934.8,1032.7 940.1,1033.8 948.8,1034 956.3,1034.3 962,1034.4 973.3,1034.9 984.7,1035.4 995.3,1035.8 1005.5,1035.8 1014.9,1036.3 1022.5,1036.4 1037.6,1036.9 1048.9,1037.1 1067.8,1037.3 1082.9,1037.4 1094.3,1037.5 1101.8,1037.5 1107.5,1037.2 1112,1036 1120.4,1010.1 1127,1037.2 1130.2,1038.4 1163.5,1038.4 1170,1037.2 1177,1033.9 1181.6,1029.9 1184.2,1023.4 1190,1021 1196.5,1020.2 1202.7,1021 1204.7,1022.6 1207.3,1025 1211.7,1027.3 1216,1029.6 1220.9,1032 1226.9,1034.8 1230.6,1036.9 1233,1036.9 1239,1037.1 1245,1037.8 1254.1,1038.4 1260.2,1038.9 1269.2,1039.1 1281.3,1039.2 1288.9,1039.1 1294.9,1038.9 1299.5,1039.1 1305.5,1039.2 1323.6,1039.3 1341.8,1039.2 1353.9,1039.1 1362.9,1039.3 1372,1039.2 1384.1,1039.3 1394.7,1039.2 1405.2,1039.4 1412,1039.4"/>
</g>
<g class="fr"><path class="t" d="M868,1184.5v-14.9M868,25.6v14.9M904.3,1184.5v-9.6M904.3,25.6v9.6M940.6,1184.5v-9.6M940.6,25.6v9.6M977,1184.5v-9.6M977,25.6v9.6M1013.3,1184.5v-9.6M1013.3,25.6v9.6M1049.6,1184.5v-14.9M1049.6,25.6v14.9M1085.9,1184.5v-9.6M1085.9,25.6v9.6M1122.2,1184.5v-9.6M1122.2,25.6v9.6M1158.6,1184.5v-9.6M1158.6,25.6v9.6M1194.9,1184.5v-9.6M1194.9,25.6v9.6M1231.2,1184.5v-14.9M1231.2,25.6v14.9M1267.5,1184.5v-9.6M1267.5,25.6v9.6M1303.8,1184.5v-9.6M1303.8,25.6v9.6M1340.2,1184.5v-9.6M1340.2,25.6v9.6M1376.5,1184.5v-9.6M1376.5,25.6v9.6M1412.8,1184.5v-14.9M1412.8,25.6v14.9M866.2,1182.8h14.9M1414.5,1182.8h-14.9M866.2,1153.9h9.6M1414.5,1153.9h-9.6M866.2,1125h9.6M1414.5,1125h-9.6M866.2,1096.1h9.6M1414.5,1096.1h-9.6M866.2,1067.2h9.6M1414.5,1067.2h-9.6M866.2,1038.4h14.9M1414.5,1038.4h-14.9M866.2,1009.5h9.6M1414.5,1009.5h-9.6M866.2,980.6h9.6M1414.5,980.6h-9.6M866.2,951.7h9.6M1414.5,951.7h-9.6M866.2,922.8h9.6M1414.5,922.8h-9.6M866.2,893.9h14.9M1414.5,893.9h-14.9M866.2,865h9.6M1414.5,865h-9.6M866.2,836.1h9.6M1414.5,836.1h-9.6M866.2,807.3h9.6M1414.5,807.3h-9.6M866.2,778.4h9.6M1414.5,778.4h-9.6M866.2,749.5h14.9M1414.5,749.5h-14.9M866.2,720.6h9.6M1414.5,720.6h-9.6M866.2,691.7h9.6M1414.5,691.7h-9.6M866.2,662.8h9.6M1414.5,662.8h-9.6M866.2,633.9h9.6M1414.5,633.9h-9.6M866.2,605h14.9M1414.5,605h-14.9M866.2,576.2h9.6M1414.5,576.2h-9.6M866.2,547.3h9.6M1414.5,547.3h-9.6M866.2,518.4h9.6M1414.5,518.4h-9.6M866.2,489.5h9.6M1414.5,489.5h-9.6M866.2,460.6h14.9M1414.5,460.6h-14.9M866.2,431.7h9.6M1414.5,431.7h-9.6M866.2,402.8h9.6M1414.5,402.8h-9.6M866.2,373.9h9.6M1414.5,373.9h-9.6M866.2,345.1h9.6M1414.5,345.1h-9.6M866.2,316.2h14.9M1414.5,316.2h-14.9M866.2,287.3h9.6M1414.5,287.3h-9.6M866.2,258.4h9.6M1414.5,258.4h-9.6M866.2,229.5h9.6M1414.5,229.5h-9.6M866.2,200.6h9.6M1414.5,200.6h-9.6M866.2,171.7h14.9M1414.5,171.7h-14.9M866.2,142.8h9.6M1414.5,142.8h-9.6M866.2,114h9.6M1414.5,114h-9.6M866.2,85.1h9.6M1414.5,85.1h-9.6M866.2,56.2h9.6M1414.5,56.2h-9.6M866.2,27.3h14.9M1414.5,27.3h-14.9"/>
<rect class="ax" x="868" y="27.3" width="544.8" height="1155.5"/></g>
<text class="tk" text-anchor="middle" transform="translate(868,1232.7) scale(.955,1)">3.5</text>
<text class="tk" text-anchor="middle" transform="translate(1049.6,1232.7) scale(.955,1)">4</text>
<text class="tk" text-anchor="middle" transform="translate(1231.2,1232.7) scale(.955,1)">4.5</text>
<text class="tk" text-anchor="middle" transform="translate(1412.8,1232.7) scale(.955,1)">5</text>
<text class="tk" text-anchor="end" transform="translate(854.8,1197.1) scale(.955,1)">−0.5</text>
<text class="tk" text-anchor="end" transform="translate(854.8,1052.7) scale(.955,1)">0</text>
<text class="tk" text-anchor="end" transform="translate(854.8,908.2) scale(.955,1)">0.5</text>
<text class="tk" text-anchor="end" transform="translate(854.8,763.8) scale(.955,1)">1</text>
<text class="tk" text-anchor="end" transform="translate(854.8,619.3) scale(.955,1)">1.5</text>
<text class="tk" text-anchor="end" transform="translate(854.8,474.9) scale(.955,1)">2</text>
<text class="tk" text-anchor="end" transform="translate(854.8,330.5) scale(.955,1)">2.5</text>
<text class="tk" text-anchor="end" transform="translate(854.8,186) scale(.955,1)">3</text>
<text class="tk" text-anchor="end" transform="translate(854.8,41.6) scale(.955,1)">3.5</text>
<path class="g" d="M1653,27.3V1182.8M1789.1,27.3V1182.8M1925.1,27.3V1182.8M2061.2,27.3V1182.8M1585,1038.4H2129.2M1585,893.9H2129.2M1585,749.5H2129.2M1585,605H2129.2M1585,460.6H2129.2M1585,316.2H2129.2M1585,171.7H2129.2"/>
<clipPath id="cp2"><rect x="1584" y="26.3" width="546.2" height="1159"/></clipPath>
<g class="c" clip-path="url(#cp2)">
<path stroke="#000000" stroke-width="3.4" style="filter:drop-shadow(0 0 1px #00000070)" d="M1585.3,1060 1586.3,1105 1587.2,1105 1588.7,920 1589.3,920 1590.8,1087 1591.8,1087 1593.5,915 1594.1,915 1595.8,1069 1596.8,1069 1598.2,905 1599.3,707.4 1600.3,707.4 1601,1048.6 1602,1048.6 1603.7,890 1604.3,890 1606,1050.8 1607,1050.8 1608.2,593 1609.2,593 1611.2,1030.4 1612.2,1030.4 1613.3,570 1614.3,570 1615.7,960 1616.3,960 1617.4,705 1618.2,705 1619,973.8 1619.9,973.8 1621.3,700 1622.5,391 1623.5,391 1625.5,730 1627.5,171.2 1628.6,171.2 1631,730 1633.5,67.1 1634.5,67.1 1636,730 1637.1,243.2 1638.1,243.2 1638.8,887.6 1639.6,887.6 1640.3,403.6 1641.3,403.6 1642.8,735 1644.2,152.9 1645.3,152.9 1646.5,600 1647.8,89.1 1648.8,89.1 1650.3,735 1652,690 1653.5,925 1654.4,925 1655.8,700 1657,258 1658.1,258 1659.4,735 1660.4,407 1661.4,407 1662,970.4 1663,970.4 1664.3,800 1664.9,800 1666.3,1075.8 1667.3,1075.8 1669.7,830 1670.3,830 1672.9,1091.6 1673.9,1091.6 1676,800 1676.6,800 1678.7,901 1679.5,901 1680.5,245.2 1681.6,245.2 1683.2,847 1684,847 1685.5,205.5 1686.5,205.5 1688.5,735 1690.5,375.2 1691.5,375.2 1693.3,735 1695,411.5 1696.1,411.5 1697,874 1697.8,874 1699.5,700 1701.4,611 1702.4,611 1703.3,1011 1704.2,1011 1706,613 1707,613 1708.5,964.7 1709.5,964.7 1711.2,449 1712.2,449 1713.8,800 1715.5,1068 1716.5,1068 1718.1,830 1718.7,830 1720.3,992 1721.2,992 1723.2,840 1723.8,840 1725.8,1045 1726.8,1045 1728.7,835 1729.3,835 1731.5,1055 1732.4,1055 1734.1,850 1734.7,850 1736.5,1088 1737.5,1088 1739.3,880 1739.9,880 1741.8,1084 1742.8,1084 1744.7,860 1745.3,860 1747.1,1096.6 1748,1096.6 1749.5,1060 1750.1,1060 1751.2,870 1751.8,870 1753,1070 1753.6,1070 1755,1111.4 1755.9,1111.4 1757.3,1075 1757.9,1075 1759.2,880 1759.8,880 1762,1098.7 1762.9,1098.7 1764.7,880 1765.3,880 1767.3,1085 1768.2,1085 1769.9,1070 1770.5,1070 1771.3,920 1771.9,920 1773,1117 1773.9,1117 1775.5,1050 1776.1,1050 1777.3,975 1777.9,975 1779.5,1092 1780.5,1092 1782.1,1010 1782.7,1010 1785.1,1121 1785.7,1121 1787.2,1085 1788.8,1141 1790.3,1146.3 1790.5,1148 1791,1113.5 1791.6,1113.5 1792,1148 1793.3,1152.5 1794.8,1150.2 1796.3,1156.1 1797.8,1151.2 1798.5,1154.7 1799,1134 1799.6,1134 1800,1154.7 1800.8,1150.5 1802.3,1154.2 1803.8,1150.3 1804.2,1154.1 1804.6,1134.6 1805.2,1134.6 1805.7,1154.1 1806.8,1150.8 1808.3,1154.5 1809.8,1148.8 1811.3,1153.2 1812.8,1149.4 1814.3,1153.6 1815.8,1146.9 1817,1151.4 1817.5,1131.6 1818.1,1131.6 1818.5,1151.4 1818.8,1147.4 1820.3,1152.9 1821.8,1147.4 1823,1149.8 1823.5,1125.5 1824.1,1125.5 1824.5,1149.8 1824.8,1146.1 1826.3,1149.3 1827.8,1145.7 1829.3,1149 1830.8,1143.5 1832.3,1148 1833.8,1143.5 1834.3,1147.2 1834.8,1137 1835.4,1137 1835.8,1147.2 1836.8,1143.4 1838.3,1147.3 1839.8,1143.5 1841.3,1145.6 1842.3,1145.5 1842.8,1121.8 1843.4,1121.8 1843.8,1145.5 1844.3,1146 1845.8,1141.8 1847.3,1144.6 1848.8,1140.9 1850.3,1144 1850.7,1143.7 1851.1,1131.6 1851.7,1131.6 1852.2,1143.7 1853.3,1143.7 1854.8,1139.5 1856.3,1142 1857.8,1139.1 1859.3,1141.5 1860.8,1138 1861.5,1140.7 1862,1132.5 1862.6,1132.5 1863,1140.7 1863.8,1137.8 1865.3,1139.7 1866.8,1137 1868.3,1137.9 1869.8,1137.8 1870.2,1131 1870.8,1131 1871.2,1137.8 1872.8,1134.7 1874.3,1135.3 1875.8,1133.5 1877.3,1132.7 1878.8,1129.5 1880.3,1127.7 1881.8,1102.2 1883.3,1071.9 1884.8,1040.5 1886.3,1008.7 1887.8,976 1889.3,963.1 1890.8,961.8 1892.3,972.9 1893.8,984.7 1895.3,983.7 1895.8,980.9 1896.3,1104.6 1896.9,1104.6 1897.3,980.9 1898.3,981.1 1899.8,987.3 1901.3,1003.8 1902.8,1006 1904.3,1008.9 1905.8,1011.2 1907.3,1015.1 1908.8,1018.3 1910.3,1022.1 1911.8,1033.8 1913.3,1046 1914.8,1055.1 1916.3,1064.6 1917.8,1073.3 1919.3,1082.8 1920.8,1089.3 1922.3,1095.7 1923.8,1101.3 1925.3,1107.7 1926.8,1111.8 1928.3,1114.9 1929.8,1117 1931.3,1120.1 1932.8,1121.8 1934.3,1122.3 1935.8,1122 1937.3,1122.7 1938.8,1121.7 1940.3,1121.2 1941.8,1120.1 1943.3,1120.3 1944.8,1120.2 1946.3,1120.9 1947.8,1120.8 1949.3,1121.3 1950.8,1121.3 1952.3,1121.4 1953.8,1120.3 1955.3,1120.9 1956.8,1118.4 1958.3,1119.3 1959.8,1117.1 1961,1118.6 1961.4,1112 1962,1112 1962.5,1118.6 1962.8,1116.6 1964.3,1118 1965.8,1116.1 1967.3,1118 1968.8,1116.1 1970.3,1117.6 1971.8,1116.4 1973.3,1117 1974.8,1114.9 1976.3,1115.3 1977.8,1113.7 1979.3,1113.8 1979.8,1114 1980.3,1108 1980.9,1108 1981.3,1114 1982.3,1112.5 1983.8,1111.4 1985.3,1112 1986.8,1111 1988.3,1111.7 1989.8,1110.5 1991.3,1111.3 1992.2,1112.3 1992.6,1104 1993.2,1104 1993.7,1112.3 1994.3,1111.4 1995.8,1110 1997.3,1110.8 1998.8,1109.5 2000.3,1110.3 2001.8,1108.3 2003.3,1108.9 2004.8,1106 2006.3,1106.9 2007.8,1104.6 2009.3,1104.9 2010.8,1104.6 2011.3,1099 2011.9,1099 2012.3,1104.6 2013.8,1102.1 2015.3,1103.3 2016.8,1101.7 2018.3,1102.3 2019.2,1103.1 2019.7,1099 2020.3,1099 2020.8,1103.1 2021.3,1102.1 2022.8,1100.7 2024.3,1101.7 2025.8,1100.3 2027.3,1101.2 2028.8,1099.2 2030.5,1101.7 2030.9,1096 2031.5,1096 2032,1101.7 2033.3,1101.1 2034.8,1100.2 2036.3,1101.4 2037.8,1099.9 2039.3,1101.3 2040.8,1099.5 2042.2,1101.6 2042.6,1086 2043.2,1086 2043.7,1101.6 2045.3,1100.7 2046.8,1098.5 2048.3,1100.3 2049.8,1098.3 2051.3,1099.9 2052.8,1097.9 2053.2,1100.1 2053.7,1089 2054.3,1089 2054.8,1100.1 2055.8,1097.7 2057.3,1098.8 2058.8,1097.6 2060.3,1098.3 2061.8,1096.1 2063.3,1097.8 2064.8,1094.8 2065.4,1097.5 2065.9,1088 2066.5,1088 2066.9,1097.5 2067.8,1094.3 2069.3,1097 2070.8,1092.9 2072.3,1096.2 2073.8,1092.1 2075.3,1093.1 2076.8,1090.2 2078.3,1091 2079.1,1090.5 2079.5,1079 2080.1,1079 2080.6,1090.5 2081.3,1089.4 2082.8,1085.1 2084.3,1087.6 2085.8,1083.8 2087.3,1085.8 2088.1,1085.1 2088.5,1075 2089.1,1075 2089.6,1085.1 2090.3,1084.5 2091.8,1079 2093.3,1085.9 2094.8,1078.9 2095.7,1084.1 2096.1,1052.5 2096.7,1052.5 2097.2,1084.1 2097.8,1080.1 2099.2,1084.6 2099.7,1066 2100.3,1066 2100.8,1084.6 2102.4,1085 2102.9,1057.5 2103.5,1057.5 2103.9,1085 2105.3,1087.7 2106.8,1081.5 2108.3,1085.5 2109.8,1078 2111.3,1084.1 2112.2,1081 2112.7,1062.5 2113.3,1062.5 2113.8,1081 2114.3,1080.3 2115.8,1075.9 2117.3,1080.8 2118.8,1072.9 2119.8,1077.2 2120.2,1061.5 2120.8,1061.5 2121.2,1077.2 2121.8,1071.6 2123.3,1078.4 2124.8,1070.8 2125.2,1074.9 2125.7,1064 2126.3,1064 2126.8,1074.9 2127.8,1069.8 2129.2,1072"/>
<path stroke="#ff1848" stroke-width="3.4" style="filter:drop-shadow(0 0 1px #ff184870)" d="M1585.3,987.2 1586.3,1021.7 1587.2,1021.7 1588.7,880 1589.3,880 1590.8,1007.9 1591.8,1007.9 1593.5,876.2 1594.1,876.2 1595.8,994.1 1596.8,994.1 1598.2,868.6 1599.3,717.3 1600.3,717.3 1601,978.5 1602,978.5 1603.7,857.1 1604.3,857.1 1606,980.2 1607,980.2 1608.2,629.7 1609.2,629.7 1611.2,964.6 1612.2,964.6 1613.3,612.1 1614.3,612.1 1615.7,910.7 1616.3,910.7 1617.4,715.4 1618.2,715.4 1619,921.2 1619.9,921.2 1621.3,711.6 1622.5,475 1623.5,475 1625.5,734.6 1627.5,306.7 1628.6,306.7 1631,734.6 1633.5,227 1634.5,227 1636,734.6 1637.1,361.9 1638.1,361.9 1638.8,855.2 1639.6,855.2 1640.3,484.7 1641.3,484.7 1642.8,738.4 1644.2,292.7 1645.3,292.7 1646.5,635 1647.8,243.9 1648.8,243.9 1650.3,738.4 1652,703.9 1653.5,883.9 1654.4,883.9 1655.8,711.6 1657,373.2 1658.1,373.2 1659.4,738.4 1660.4,487.3 1661.4,487.3 1662,918.6 1663,918.6 1664.3,788.2 1664.9,788.2 1666.3,999.3 1667.3,999.3 1669.7,811.1 1670.3,811.1 1672.9,1011.4 1673.9,1011.4 1676,788.2 1676.6,788.2 1678.7,865.5 1679.5,865.5 1680.5,363.4 1681.6,363.4 1683.2,824.1 1684,824.1 1685.5,333 1686.5,333 1688.5,738.4 1690.5,462.9 1691.5,462.9 1693.3,738.4 1695,490.7 1696.1,490.7 1697,844.8 1697.8,844.8 1699.5,711.6 1701.4,643.5 1702.4,643.5 1703.3,949.7 1704.2,949.7 1706,645 1707,645 1708.5,914.3 1709.5,914.3 1711.2,519.4 1712.2,519.4 1713.8,788.2 1715.5,993.4 1716.5,993.4 1718.1,811.1 1718.7,811.1 1720.3,935.2 1721.2,935.2 1723.2,818.8 1723.8,818.8 1725.8,975.7 1726.8,975.7 1728.7,815 1729.3,815 1731.5,983.4 1732.4,983.4 1734.1,826.4 1734.7,826.4 1736.5,1008.7 1737.5,1008.7 1739.3,849.4 1739.9,849.4 1741.8,1005.6 1742.8,1005.6 1744.7,834.1 1745.3,834.1 1747.1,1015.2 1748,1015.2 1749.5,987.2 1750.1,987.2 1751.2,841.8 1751.8,841.8 1753,994.9 1753.6,994.9 1755,1026.6 1755.9,1026.6 1757.3,998.7 1757.9,998.7 1759.2,849.4 1759.8,849.4 1762,1016.9 1762.9,1016.9 1764.7,849.4 1765.3,849.4 1767.3,1006.4 1768.2,1006.4 1769.9,994.9 1770.5,994.9 1771.3,880 1771.9,880 1773,1030.9 1773.9,1030.9 1775.5,979.6 1776.1,979.6 1777.3,922.1 1777.9,922.1 1779.5,1011.7 1780.5,1011.7 1782.1,948.9 1782.7,948.9 1785.1,1033.9 1785.7,1033.9 1787.2,1006.4 1788.8,1049.2 1790.3,1053.3 1790.5,1054.6 1791,1028.2 1791.6,1028.2 1792,1054.6 1793.3,1058.1 1794.8,1056.3 1796.3,1060.8 1797.8,1057 1798.5,1059.7 1799,1043.9 1799.6,1043.9 1800,1059.7 1800.8,1056.5 1802.3,1059.4 1803.8,1056.4 1804.2,1059.2 1804.6,1044.3 1805.2,1044.3 1805.7,1059.2 1806.8,1056.8 1808.3,1059.6 1809.8,1055.2 1811.3,1058.6 1812.8,1055.7 1814.3,1058.9 1815.8,1053.8 1817,1057.2 1817.5,1042 1818.1,1042 1818.5,1057.2 1818.8,1054.1 1820.3,1058.3 1821.8,1054.2 1823,1056 1823.5,1037.4 1824.1,1037.4 1824.5,1056 1824.8,1053.1 1826.3,1055.6 1827.8,1052.9 1829.3,1055.4 1830.8,1051.1 1832.3,1054.6 1833.8,1051.2 1834.3,1054 1834.8,1046.2 1835.4,1046.2 1835.8,1054 1836.8,1051.1 1838.3,1054.1 1839.8,1051.2 1841.3,1052.8 1842.3,1052.7 1842.8,1034.5 1843.4,1034.5 1843.8,1052.7 1844.3,1053.1 1845.8,1049.8 1847.3,1052 1848.8,1049.2 1850.3,1051.5 1850.7,1051.3 1851.1,1042 1851.7,1042 1852.2,1051.3 1853.3,1051.3 1854.8,1048.1 1856.3,1050 1857.8,1047.8 1859.3,1049.6 1860.8,1047 1861.5,1049 1862,1042.7 1862.6,1042.7 1863,1049 1863.8,1046.8 1865.3,1048.2 1866.8,1046.2 1868.3,1046.9 1869.8,1046.8 1870.2,1041.6 1870.8,1041.6 1871.2,1046.8 1872.8,1044.5 1874.3,1044.9 1875.8,1043.5 1877.3,1042.9 1878.8,1040.4 1880.3,1039.1 1881.8,1019.6 1883.3,996.3 1884.8,972.3 1886.3,947.9 1887.8,922.9 1889.3,913.1 1890.8,912 1892.3,920.5 1893.8,929.6 1895.3,928.8 1895.8,926.7 1896.3,1021.4 1896.9,1021.4 1897.3,926.7 1898.3,926.8 1899.8,931.6 1901.3,944.2 1902.8,945.9 1904.3,948.1 1905.8,949.9 1907.3,952.8 1908.8,955.3 1910.3,958.2 1911.8,967.2 1913.3,976.5 1914.8,983.5 1916.3,990.7 1917.8,997.4 1919.3,1004.7 1920.8,1009.6 1922.3,1014.5 1923.8,1018.8 1925.3,1023.7 1926.8,1026.8 1928.3,1029.3 1929.8,1030.9 1931.3,1033.2 1932.8,1034.6 1934.3,1034.9 1935.8,1034.7 1937.3,1035.2 1938.8,1034.5 1940.3,1034.1 1941.8,1033.2 1943.3,1033.4 1944.8,1033.3 1946.3,1033.9 1947.8,1033.8 1949.3,1034.2 1950.8,1034.2 1952.3,1034.2 1953.8,1033.4 1955.3,1033.9 1956.8,1031.9 1958.3,1032.6 1959.8,1031 1961,1032.1 1961.4,1027 1962,1027 1962.5,1032.1 1962.8,1030.6 1964.3,1031.6 1965.8,1030.2 1967.3,1031.6 1968.8,1030.2 1970.3,1031.3 1971.8,1030.4 1973.3,1030.9 1974.8,1029.3 1976.3,1029.6 1977.8,1028.3 1979.3,1028.4 1979.8,1028.6 1980.3,1024 1980.9,1024 1981.3,1028.6 1982.3,1027.4 1983.8,1026.5 1985.3,1027 1986.8,1026.2 1988.3,1026.8 1989.8,1025.9 1991.3,1026.5 1992.2,1027.2 1992.6,1020.9 1993.2,1020.9 1993.7,1027.2 1994.3,1026.6 1995.8,1025.5 1997.3,1026.1 1998.8,1025.1 2000.3,1025.7 2001.8,1024.2 2003.3,1024.6 2004.8,1022.5 2006.3,1023.1 2007.8,1021.4 2009.3,1021.6 2010.8,1021.4 2011.3,1017.1 2011.9,1017.1 2012.3,1021.4 2013.8,1019.5 2015.3,1020.4 2016.8,1019.2 2018.3,1019.6 2019.2,1020.3 2019.7,1017.1 2020.3,1017.1 2020.8,1020.3 2021.3,1019.5 2022.8,1018.4 2024.3,1019.1 2025.8,1018.1 2027.3,1018.7 2028.8,1017.2 2030.5,1019.2 2030.9,1014.8 2031.5,1014.8 2032,1019.2 2033.3,1018.7 2034.8,1018 2036.3,1019 2037.8,1017.8 2039.3,1018.8 2040.8,1017.4 2042.2,1019.1 2042.6,1007.1 2043.2,1007.1 2043.7,1019.1 2045.3,1018.4 2046.8,1016.7 2048.3,1018.1 2049.8,1016.5 2051.3,1017.8 2052.8,1016.2 2053.2,1017.9 2053.7,1009.4 2054.3,1009.4 2054.8,1017.9 2055.8,1016.1 2057.3,1016.9 2058.8,1016 2060.3,1016.5 2061.8,1014.9 2063.3,1016.1 2064.8,1013.9 2065.4,1015.9 2065.9,1008.7 2066.5,1008.7 2066.9,1015.9 2067.8,1013.5 2069.3,1015.6 2070.8,1012.4 2072.3,1014.9 2073.8,1011.8 2075.3,1012.6 2076.8,1010.3 2078.3,1010.9 2079.1,1010.6 2079.5,1001.8 2080.1,1001.8 2080.6,1010.6 2081.3,1009.7 2082.8,1006.4 2084.3,1008.3 2085.8,1005.5 2087.3,1007 2088.1,1006.4 2088.5,998.7 2089.1,998.7 2089.6,1006.4 2090.3,1006 2091.8,1001.8 2093.3,1007.1 2094.8,1001.7 2095.7,1005.7 2096.1,981.5 2096.7,981.5 2097.2,1005.7 2097.8,1002.6 2099.2,1006 2099.7,991.8 2100.3,991.8 2100.8,1006 2102.4,1006.4 2102.9,985.3 2103.5,985.3 2103.9,1006.4 2105.3,1008.4 2106.8,1003.7 2108.3,1006.7 2109.8,1001 2111.3,1005.6 2112.2,1003.3 2112.7,989.1 2113.3,989.1 2113.8,1003.3 2114.3,1002.7 2115.8,999.4 2117.3,1003.1 2118.8,997.1 2119.8,1000.4 2120.2,988.4 2120.8,988.4 2121.2,1000.4 2121.8,996.1 2123.3,1001.3 2124.8,995.5 2125.2,998.6 2125.7,990.3 2126.3,990.3 2126.8,998.6 2127.8,994.7 2129.2,996.4"/>
<path stroke="#08089a" stroke-width="3.4" style="filter:drop-shadow(0 0 1px #08089a70)" d="M1585.3,937.3 1586.3,964.6 1587.2,964.6 1588.7,852.6 1589.3,852.6 1590.8,953.7 1591.8,953.7 1593.5,849.6 1594.1,849.6 1595.8,942.8 1596.8,942.8 1598.2,843.6 1599.3,724 1600.3,724 1601,930.4 1602,930.4 1603.7,834.5 1604.3,834.5 1606,931.8 1607,931.8 1608.2,654.8 1609.2,654.8 1611.2,919.4 1612.2,919.4 1613.3,640.9 1614.3,640.9 1615.7,876.8 1616.3,876.8 1617.4,722.6 1618.2,722.6 1619,885.2 1619.9,885.2 1621.3,719.6 1622.5,532.6 1623.5,532.6 1625.5,737.7 1627.5,399.7 1628.6,399.7 1631,737.7 1633.5,336.7 1634.5,336.7 1636,737.7 1637.1,443.2 1638.1,443.2 1638.8,833 1639.6,833 1640.3,540.3 1641.3,540.3 1642.8,740.7 1644.2,388.6 1645.3,388.6 1646.5,659.1 1647.8,350 1648.8,350 1650.3,740.7 1652,713.5 1653.5,855.7 1654.4,855.7 1655.8,719.6 1657,452.2 1658.1,452.2 1659.4,740.7 1660.4,542.3 1661.4,542.3 1662,883.1 1663,883.1 1664.3,780 1664.9,780 1666.3,946.9 1667.3,946.9 1669.7,798.2 1670.3,798.2 1672.9,956.4 1673.9,956.4 1676,780 1676.6,780 1678.7,841.1 1679.5,841.1 1680.5,444.4 1681.6,444.4 1683.2,808.5 1684,808.5 1685.5,420.4 1686.5,420.4 1688.5,740.7 1690.5,523.1 1691.5,523.1 1693.3,740.7 1695,545 1696.1,545 1697,824.8 1697.8,824.8 1699.5,719.6 1701.4,665.7 1702.4,665.7 1703.3,907.7 1704.2,907.7 1706,666.9 1707,666.9 1708.5,879.7 1709.5,879.7 1711.2,567.7 1712.2,567.7 1713.8,780 1715.5,942.2 1716.5,942.2 1718.1,798.2 1718.7,798.2 1720.3,896.2 1721.2,896.2 1723.2,804.2 1723.8,804.2 1725.8,928.3 1726.8,928.3 1728.7,801.2 1729.3,801.2 1731.5,934.3 1732.4,934.3 1734.1,810.3 1734.7,810.3 1736.5,954.3 1737.5,954.3 1739.3,828.4 1739.9,828.4 1741.8,951.9 1742.8,951.9 1744.7,816.3 1745.3,816.3 1747.1,959.5 1748,959.5 1749.5,937.3 1750.1,937.3 1751.2,822.4 1751.8,822.4 1753,943.4 1753.6,943.4 1755,968.4 1755.9,968.4 1757.3,946.4 1757.9,946.4 1759.2,828.4 1759.8,828.4 1762,960.7 1762.9,960.7 1764.7,828.4 1765.3,828.4 1767.3,952.5 1768.2,952.5 1769.9,943.4 1770.5,943.4 1771.3,852.6 1771.9,852.6 1773,971.8 1773.9,971.8 1775.5,931.3 1776.1,931.3 1777.3,885.9 1777.9,885.9 1779.5,956.7 1780.5,956.7 1782.1,907.1 1782.7,907.1 1785.1,974.2 1785.7,974.2 1787.2,952.5 1788.8,986.3 1790.3,989.6 1790.5,990.5 1791,969.7 1791.6,969.7 1792,990.5 1793.3,993.3 1794.8,991.9 1796.3,995.4 1797.8,992.5 1798.5,994.6 1799,982.1 1799.6,982.1 1800,994.6 1800.8,992.1 1802.3,994.3 1803.8,992 1804.2,994.2 1804.6,982.5 1805.2,982.5 1805.7,994.2 1806.8,992.3 1808.3,994.5 1809.8,991 1811.3,993.7 1812.8,991.4 1814.3,994 1815.8,989.9 1817,992.6 1817.5,980.6 1818.1,980.6 1818.5,992.6 1818.8,990.2 1820.3,993.5 1821.8,990.2 1823,991.7 1823.5,977 1824.1,977 1824.5,991.7 1824.8,989.4 1826.3,991.3 1827.8,989.2 1829.3,991.2 1830.8,987.8 1832.3,990.6 1833.8,987.8 1834.3,990.1 1834.8,983.9 1835.4,983.9 1835.8,990.1 1836.8,987.8 1838.3,990.1 1839.8,987.9 1841.3,989.1 1842.3,989.1 1842.8,974.7 1843.4,974.7 1843.8,989.1 1844.3,989.4 1845.8,986.8 1847.3,988.5 1848.8,986.3 1850.3,988.2 1850.7,987.9 1851.1,980.6 1851.7,980.6 1852.2,987.9 1853.3,987.9 1854.8,985.4 1856.3,986.9 1857.8,985.2 1859.3,986.6 1860.8,984.5 1861.5,986.1 1862,981.2 1862.6,981.2 1863,986.1 1863.8,984.4 1865.3,985.5 1866.8,983.9 1868.3,984.5 1869.8,984.4 1870.2,980.3 1870.8,980.3 1871.2,984.4 1872.8,982.5 1874.3,982.9 1875.8,981.8 1877.3,981.3 1878.8,979.4 1880.3,978.3 1881.8,962.9 1883.3,944.5 1884.8,925.5 1886.3,906.3 1887.8,886.5 1889.3,878.7 1890.8,877.9 1892.3,884.6 1893.8,891.8 1895.3,891.2 1895.8,889.5 1896.3,964.3 1896.9,964.3 1897.3,889.5 1898.3,889.6 1899.8,893.4 1901.3,903.3 1902.8,904.6 1904.3,906.4 1905.8,907.8 1907.3,910.2 1908.8,912.1 1910.3,914.4 1911.8,921.5 1913.3,928.9 1914.8,934.4 1916.3,940.1 1917.8,945.4 1919.3,951.1 1920.8,955 1922.3,958.9 1923.8,962.3 1925.3,966.2 1926.8,968.6 1928.3,970.6 1929.8,971.8 1931.3,973.7 1932.8,974.7 1934.3,975 1935.8,974.8 1937.3,975.2 1938.8,974.7 1940.3,974.4 1941.8,973.7 1943.3,973.8 1944.8,973.8 1946.3,974.2 1947.8,974.1 1949.3,974.4 1950.8,974.4 1952.3,974.5 1953.8,973.8 1955.3,974.2 1956.8,972.7 1958.3,973.2 1959.8,971.9 1961,972.8 1961.4,968.8 1962,968.8 1962.5,972.8 1962.8,971.6 1964.3,972.4 1965.8,971.3 1967.3,972.4 1968.8,971.3 1970.3,972.2 1971.8,971.4 1973.3,971.8 1974.8,970.6 1976.3,970.8 1977.8,969.8 1979.3,969.9 1979.8,970 1980.3,966.4 1980.9,966.4 1981.3,970 1982.3,969.1 1983.8,968.4 1985.3,968.8 1986.8,968.2 1988.3,968.6 1989.8,967.9 1991.3,968.4 1992.2,968.9 1992.6,964 1993.2,964 1993.7,968.9 1994.3,968.4 1995.8,967.6 1997.3,968.1 1998.8,967.3 2000.3,967.7 2001.8,966.6 2003.3,966.9 2004.8,965.2 2006.3,965.7 2007.8,964.3 2009.3,964.5 2010.8,964.3 2011.3,960.9 2011.9,960.9 2012.3,964.3 2013.8,962.8 2015.3,963.6 2016.8,962.6 2018.3,962.9 2019.2,963.4 2019.7,960.9 2020.3,960.9 2020.8,963.4 2021.3,962.8 2022.8,962 2024.3,962.5 2025.8,961.7 2027.3,962.2 2028.8,961 2030.5,962.6 2030.9,959.1 2031.5,959.1 2032,962.6 2033.3,962.2 2034.8,961.6 2036.3,962.4 2037.8,961.5 2039.3,962.3 2040.8,961.2 2042.2,962.5 2042.6,953.1 2043.2,953.1 2043.7,962.5 2045.3,961.9 2046.8,960.6 2048.3,961.7 2049.8,960.5 2051.3,961.5 2052.8,960.3 2053.2,961.6 2053.7,954.9 2054.3,954.9 2054.8,961.6 2055.8,960.1 2057.3,960.8 2058.8,960.1 2060.3,960.5 2061.8,959.2 2063.3,960.2 2064.8,958.4 2065.4,960 2065.9,954.3 2066.5,954.3 2066.9,960 2067.8,958.1 2069.3,959.7 2070.8,957.2 2072.3,959.2 2073.8,956.8 2075.3,957.4 2076.8,955.6 2078.3,956.1 2079.1,955.8 2079.5,948.8 2080.1,948.8 2080.6,955.8 2081.3,955.1 2082.8,952.5 2084.3,954 2085.8,951.7 2087.3,953 2088.1,952.5 2088.5,946.4 2089.1,946.4 2089.6,952.5 2090.3,952.1 2091.8,948.8 2093.3,953 2094.8,948.8 2095.7,951.9 2096.1,932.8 2096.7,932.8 2097.2,951.9 2097.8,949.5 2099.2,952.2 2099.7,941 2100.3,941 2100.8,952.2 2102.4,952.5 2102.9,935.8 2103.5,935.8 2103.9,952.5 2105.3,954.1 2106.8,950.4 2108.3,952.7 2109.8,948.2 2111.3,951.9 2112.2,950 2112.7,938.8 2113.3,938.8 2113.8,950 2114.3,949.6 2115.8,946.9 2117.3,949.9 2118.8,945.1 2119.8,947.7 2120.2,938.2 2120.8,938.2 2121.2,947.7 2121.8,944.3 2123.3,948.5 2124.8,943.8 2125.2,946.3 2125.7,939.8 2126.3,939.8 2126.8,946.3 2127.8,943.2 2129.2,944.6"/>
<path stroke="#ff2ee0" stroke-width="3.4" style="filter:drop-shadow(0 0 1px #ff2ee070)" d="M1585.3,901.6 1586.3,923.7 1587.2,923.7 1588.7,833 1589.3,833 1590.8,914.9 1591.8,914.9 1593.5,830.6 1594.1,830.6 1595.8,906.1 1596.8,906.1 1598.2,825.7 1599.3,728.9 1600.3,728.9 1601,896.1 1602,896.1 1603.7,818.3 1604.3,818.3 1606,897.1 1607,897.1 1608.2,672.8 1609.2,672.8 1611.2,887.1 1612.2,887.1 1613.3,661.5 1614.3,661.5 1615.7,852.6 1616.3,852.6 1617.4,727.7 1618.2,727.7 1619,859.4 1619.9,859.4 1621.3,725.2 1622.5,573.8 1623.5,573.8 1625.5,739.9 1627.5,466.1 1628.6,466.1 1631,739.9 1633.5,415.1 1634.5,415.1 1636,739.9 1637.1,501.4 1638.1,501.4 1638.8,817.2 1639.6,817.2 1640.3,580 1641.3,580 1642.8,742.4 1644.2,457.2 1645.3,457.2 1646.5,676.2 1647.8,425.9 1648.8,425.9 1650.3,742.4 1652,720.3 1653.5,835.5 1654.4,835.5 1655.8,725.2 1657,508.7 1658.1,508.7 1659.4,742.4 1660.4,581.7 1661.4,581.7 1662,857.7 1663,857.7 1664.3,774.2 1664.9,774.2 1666.3,909.4 1667.3,909.4 1669.7,788.9 1670.3,788.9 1672.9,917.1 1673.9,917.1 1676,774.2 1676.6,774.2 1678.7,823.7 1679.5,823.7 1680.5,502.4 1681.6,502.4 1683.2,797.3 1684,797.3 1685.5,482.9 1686.5,482.9 1688.5,742.4 1690.5,566.1 1691.5,566.1 1693.3,742.4 1695,583.9 1696.1,583.9 1697,810.5 1697.8,810.5 1699.5,725.2 1701.4,681.6 1702.4,681.6 1703.3,877.6 1704.2,877.6 1706,682.6 1707,682.6 1708.5,854.9 1709.5,854.9 1711.2,602.3 1712.2,602.3 1713.8,774.2 1715.5,905.6 1716.5,905.6 1718.1,788.9 1718.7,788.9 1720.3,868.3 1721.2,868.3 1723.2,793.8 1723.8,793.8 1725.8,894.3 1726.8,894.3 1728.7,791.4 1729.3,791.4 1731.5,899.2 1732.4,899.2 1734.1,798.7 1734.7,798.7 1736.5,915.4 1737.5,915.4 1739.3,813.4 1739.9,813.4 1741.8,913.4 1742.8,913.4 1744.7,803.6 1745.3,803.6 1747.1,919.6 1748,919.6 1749.5,901.6 1750.1,901.6 1751.2,808.5 1751.8,808.5 1753,906.5 1753.6,906.5 1755,926.8 1755.9,926.8 1757.3,909 1757.9,909 1759.2,813.4 1759.8,813.4 1762,920.6 1762.9,920.6 1764.7,813.4 1765.3,813.4 1767.3,913.9 1768.2,913.9 1769.9,906.5 1770.5,906.5 1771.3,833 1771.9,833 1773,929.6 1773.9,929.6 1775.5,896.7 1776.1,896.7 1777.3,860 1777.9,860 1779.5,917.3 1780.5,917.3 1782.1,877.1 1782.7,877.1 1785.1,931.5 1785.7,931.5 1787.2,913.9 1788.8,941.3 1790.3,944 1790.5,944.7 1791,927.9 1791.6,927.9 1792,944.7 1793.3,947 1794.8,945.8 1796.3,948.7 1797.8,946.3 1798.5,948 1799,937.9 1799.6,937.9 1800,948 1800.8,946 1802.3,947.8 1803.8,945.9 1804.2,947.7 1804.6,938.2 1805.2,938.2 1805.7,947.7 1806.8,946.2 1808.3,947.9 1809.8,945.1 1811.3,947.3 1812.8,945.5 1814.3,947.5 1815.8,944.2 1817,946.4 1817.5,936.7 1818.1,936.7 1818.5,946.4 1818.8,944.5 1820.3,947.1 1821.8,944.5 1823,945.6 1823.5,933.7 1824.1,933.7 1824.5,945.6 1824.8,943.8 1826.3,945.4 1827.8,943.6 1829.3,945.3 1830.8,942.5 1832.3,944.8 1833.8,942.6 1834.3,944.4 1834.8,939.4 1835.4,939.4 1835.8,944.4 1836.8,942.5 1838.3,944.4 1839.8,942.6 1841.3,943.6 1842.3,943.6 1842.8,931.9 1843.4,931.9 1843.8,943.6 1844.3,943.8 1845.8,941.7 1847.3,943.1 1848.8,941.3 1850.3,942.8 1850.7,942.6 1851.1,936.7 1851.7,936.7 1852.2,942.6 1853.3,942.6 1854.8,940.6 1856.3,941.8 1857.8,940.4 1859.3,941.6 1860.8,939.9 1861.5,941.2 1862,937.2 1862.6,937.2 1863,941.2 1863.8,939.8 1865.3,940.7 1866.8,939.4 1868.3,939.8 1869.8,939.8 1870.2,936.4 1870.8,936.4 1871.2,939.8 1872.8,938.3 1874.3,938.6 1875.8,937.6 1877.3,937.2 1878.8,935.7 1880.3,934.8 1881.8,922.3 1883.3,907.5 1884.8,892.1 1886.3,876.5 1887.8,860.5 1889.3,854.2 1890.8,853.5 1892.3,859 1893.8,864.8 1895.3,864.3 1895.8,862.9 1896.3,923.5 1896.9,923.5 1897.3,862.9 1898.3,863 1899.8,866 1901.3,874.1 1902.8,875.2 1904.3,876.6 1905.8,877.7 1907.3,879.6 1908.8,881.2 1910.3,883.1 1911.8,888.8 1913.3,894.8 1914.8,899.2 1916.3,903.9 1917.8,908.2 1919.3,912.8 1920.8,916 1922.3,919.1 1923.8,921.9 1925.3,925 1926.8,927 1928.3,928.6 1929.8,929.6 1931.3,931.1 1932.8,931.9 1934.3,932.2 1935.8,932 1937.3,932.4 1938.8,931.9 1940.3,931.6 1941.8,931.1 1943.3,931.2 1944.8,931.2 1946.3,931.5 1947.8,931.4 1949.3,931.7 1950.8,931.7 1952.3,931.7 1953.8,931.2 1955.3,931.5 1956.8,930.3 1958.3,930.7 1959.8,929.6 1961,930.4 1961.4,927.1 1962,927.1 1962.5,930.4 1962.8,929.4 1964.3,930.1 1965.8,929.1 1967.3,930 1968.8,929.1 1970.3,929.9 1971.8,929.3 1973.3,929.6 1974.8,928.6 1976.3,928.8 1977.8,927.9 1979.3,928 1979.8,928.1 1980.3,925.2 1980.9,925.2 1981.3,928.1 1982.3,927.4 1983.8,926.8 1985.3,927.1 1986.8,926.6 1988.3,927 1989.8,926.4 1991.3,926.8 1992.2,927.2 1992.6,923.2 1993.2,923.2 1993.7,927.2 1994.3,926.8 1995.8,926.1 1997.3,926.5 1998.8,925.9 2000.3,926.3 2001.8,925.3 2003.3,925.6 2004.8,924.2 2006.3,924.6 2007.8,923.5 2009.3,923.6 2010.8,923.5 2011.3,920.8 2011.9,920.8 2012.3,923.5 2013.8,922.3 2015.3,922.9 2016.8,922.1 2018.3,922.4 2019.2,922.8 2019.7,920.8 2020.3,920.8 2020.8,922.8 2021.3,922.3 2022.8,921.6 2024.3,922.1 2025.8,921.4 2027.3,921.8 2028.8,920.8 2030.5,922.1 2030.9,919.3 2031.5,919.3 2032,922.1 2033.3,921.8 2034.8,921.3 2036.3,921.9 2037.8,921.2 2039.3,921.9 2040.8,921 2042.2,922 2042.6,914.4 2043.2,914.4 2043.7,922 2045.3,921.6 2046.8,920.5 2048.3,921.4 2049.8,920.4 2051.3,921.2 2052.8,920.2 2053.2,921.3 2053.7,915.9 2054.3,915.9 2054.8,921.3 2055.8,920.1 2057.3,920.6 2058.8,920.1 2060.3,920.4 2061.8,919.3 2063.3,920.1 2064.8,918.7 2065.4,920 2065.9,915.4 2066.5,915.4 2066.9,920 2067.8,918.5 2069.3,919.8 2070.8,917.7 2072.3,919.4 2073.8,917.4 2075.3,917.9 2076.8,916.4 2078.3,916.8 2079.1,916.6 2079.5,911 2080.1,911 2080.6,916.6 2081.3,916 2082.8,913.9 2084.3,915.2 2085.8,913.3 2087.3,914.3 2088.1,913.9 2088.5,909 2089.1,909 2089.6,913.9 2090.3,913.6 2091.8,910.9 2093.3,914.4 2094.8,910.9 2095.7,913.4 2096.1,898 2096.7,898 2097.2,913.4 2097.8,911.5 2099.2,913.7 2099.7,904.6 2100.3,904.6 2100.8,913.7 2102.4,913.9 2102.9,900.4 2103.5,900.4 2103.9,913.9 2105.3,915.2 2106.8,912.2 2108.3,914.1 2109.8,910.5 2111.3,913.4 2112.2,911.9 2112.7,902.9 2113.3,902.9 2113.8,911.9 2114.3,911.6 2115.8,909.4 2117.3,911.8 2118.8,908 2119.8,910.1 2120.2,902.4 2120.8,902.4 2121.2,910.1 2121.8,907.3 2123.3,910.7 2124.8,906.9 2125.2,908.9 2125.7,903.6 2126.3,903.6 2126.8,908.9 2127.8,906.4 2129.2,907.5"/>
<path stroke="#007a32" stroke-width="3.4" style="filter:drop-shadow(0 0 1px #007a3270)" d="M1585.3,875.2 1586.3,893.5 1587.2,893.5 1588.7,818.5 1589.3,818.5 1590.8,886.2 1591.8,886.2 1593.5,816.5 1594.1,816.5 1595.8,878.9 1596.8,878.9 1598.2,812.5 1599.3,732.5 1600.3,732.5 1601,870.6 1602,870.6 1603.7,806.4 1604.3,806.4 1606,871.5 1607,871.5 1608.2,686.1 1609.2,686.1 1611.2,863.3 1612.2,863.3 1613.3,676.8 1614.3,676.8 1615.7,834.7 1616.3,834.7 1617.4,731.5 1618.2,731.5 1619,840.3 1619.9,840.3 1621.3,729.5 1622.5,604.3 1623.5,604.3 1625.5,741.6 1627.5,515.3 1628.6,515.3 1631,741.6 1633.5,473.2 1634.5,473.2 1636,741.6 1637.1,544.5 1638.1,544.5 1638.8,805.4 1639.6,805.4 1640.3,609.4 1641.3,609.4 1642.8,743.6 1644.2,507.9 1645.3,507.9 1646.5,689 1647.8,482.1 1648.8,482.1 1650.3,743.6 1652,725.4 1653.5,820.6 1654.4,820.6 1655.8,729.5 1657,550.5 1658.1,550.5 1659.4,743.6 1660.4,610.8 1661.4,610.8 1662,839 1663,839 1664.3,770 1664.9,770 1666.3,881.6 1667.3,881.6 1669.7,782.1 1670.3,782.1 1672.9,888 1673.9,888 1676,770 1676.6,770 1678.7,810.9 1679.5,810.9 1680.5,545.3 1681.6,545.3 1683.2,789 1684,789 1685.5,529.2 1686.5,529.2 1688.5,743.6 1690.5,597.9 1691.5,597.9 1693.3,743.6 1695,612.6 1696.1,612.6 1697,799.9 1697.8,799.9 1699.5,729.5 1701.4,693.4 1702.4,693.4 1703.3,855.4 1704.2,855.4 1706,694.2 1707,694.2 1708.5,836.6 1709.5,836.6 1711.2,627.8 1712.2,627.8 1713.8,770 1715.5,878.5 1716.5,878.5 1718.1,782.1 1718.7,782.1 1720.3,847.7 1721.2,847.7 1723.2,786.1 1723.8,786.1 1725.8,869.2 1726.8,869.2 1728.7,784.1 1729.3,784.1 1731.5,873.2 1732.4,873.2 1734.1,790.2 1734.7,790.2 1736.5,886.6 1737.5,886.6 1739.3,802.3 1739.9,802.3 1741.8,885 1742.8,885 1744.7,794.2 1745.3,794.2 1747.1,890.1 1748,890.1 1749.5,875.2 1750.1,875.2 1751.2,798.3 1751.8,798.3 1753,879.3 1753.6,879.3 1755,896.1 1755.9,896.1 1757.3,881.3 1757.9,881.3 1759.2,802.3 1759.8,802.3 1762,890.9 1762.9,890.9 1764.7,802.3 1765.3,802.3 1767.3,885.4 1768.2,885.4 1769.9,879.3 1770.5,879.3 1771.3,818.5 1771.9,818.5 1773,898.3 1773.9,898.3 1775.5,871.2 1776.1,871.2 1777.3,840.8 1777.9,840.8 1779.5,888.2 1780.5,888.2 1782.1,855 1782.7,855 1785.1,899.9 1785.7,899.9 1787.2,885.4 1788.8,908 1790.3,910.2 1790.5,910.9 1791,896.9 1791.6,896.9 1792,910.9 1793.3,912.7 1794.8,911.8 1796.3,914.1 1797.8,912.2 1798.5,913.6 1799,905.2 1799.6,905.2 1800,913.6 1800.8,911.9 1802.3,913.4 1803.8,911.8 1804.2,913.3 1804.6,905.4 1805.2,905.4 1805.7,913.3 1806.8,912 1808.3,913.5 1809.8,911.2 1811.3,913 1812.8,911.5 1814.3,913.2 1815.8,910.4 1817,912.3 1817.5,904.2 1818.1,904.2 1818.5,912.3 1818.8,910.6 1820.3,912.8 1821.8,910.6 1823,911.6 1823.5,901.8 1824.1,901.8 1824.5,911.6 1824.8,910.1 1826.3,911.4 1827.8,910 1829.3,911.3 1830.8,909 1832.3,910.9 1833.8,909.1 1834.3,910.6 1834.8,906.4 1835.4,906.4 1835.8,910.6 1836.8,909 1838.3,910.6 1839.8,909.1 1841.3,909.9 1842.3,909.9 1842.8,900.3 1843.4,900.3 1843.8,909.9 1844.3,910.1 1845.8,908.3 1847.3,909.5 1848.8,908 1850.3,909.3 1850.7,909.1 1851.1,904.2 1851.7,904.2 1852.2,909.1 1853.3,909.1 1854.8,907.4 1856.3,908.4 1857.8,907.3 1859.3,908.2 1860.8,906.8 1861.5,907.9 1862,904.6 1862.6,904.6 1863,907.9 1863.8,906.7 1865.3,907.5 1866.8,906.4 1868.3,906.8 1869.8,906.7 1870.2,904 1870.8,904 1871.2,906.7 1872.8,905.5 1874.3,905.8 1875.8,905 1877.3,904.7 1878.8,903.4 1880.3,902.7 1881.8,892.3 1883.3,880.1 1884.8,867.3 1886.3,854.5 1887.8,841.2 1889.3,836 1890.8,835.5 1892.3,840 1893.8,844.8 1895.3,844.4 1895.8,843.2 1896.3,893.3 1896.9,893.3 1897.3,843.2 1898.3,843.3 1899.8,845.8 1901.3,852.5 1902.8,853.4 1904.3,854.6 1905.8,855.5 1907.3,857.1 1908.8,858.3 1910.3,859.9 1911.8,864.6 1913.3,869.6 1914.8,873.3 1916.3,877.1 1917.8,880.6 1919.3,884.5 1920.8,887.1 1922.3,889.7 1923.8,892 1925.3,894.5 1926.8,896.2 1928.3,897.5 1929.8,898.3 1931.3,899.6 1932.8,900.3 1934.3,900.5 1935.8,900.3 1937.3,900.6 1938.8,900.2 1940.3,900 1941.8,899.6 1943.3,899.7 1944.8,899.6 1946.3,899.9 1947.8,899.9 1949.3,900.1 1950.8,900.1 1952.3,900.1 1953.8,899.7 1955.3,899.9 1956.8,898.9 1958.3,899.2 1959.8,898.4 1961,899 1961.4,896.3 1962,896.3 1962.5,899 1962.8,898.2 1964.3,898.7 1965.8,898 1967.3,898.7 1968.8,898 1970.3,898.6 1971.8,898.1 1973.3,898.3 1974.8,897.5 1976.3,897.6 1977.8,897 1979.3,897 1979.8,897.1 1980.3,894.7 1980.9,894.7 1981.3,897.1 1982.3,896.5 1983.8,896 1985.3,896.3 1986.8,895.9 1988.3,896.2 1989.8,895.7 1991.3,896 1992.2,896.4 1992.6,893.1 1993.2,893.1 1993.7,896.4 1994.3,896 1995.8,895.5 1997.3,895.8 1998.8,895.3 2000.3,895.6 2001.8,894.8 2003.3,895 2004.8,893.9 2006.3,894.2 2007.8,893.3 2009.3,893.4 2010.8,893.3 2011.3,891 2011.9,891 2012.3,893.3 2013.8,892.3 2015.3,892.8 2016.8,892.1 2018.3,892.4 2019.2,892.7 2019.7,891 2020.3,891 2020.8,892.7 2021.3,892.3 2022.8,891.7 2024.3,892.1 2025.8,891.6 2027.3,891.9 2028.8,891.1 2030.5,892.1 2030.9,889.8 2031.5,889.8 2032,892.1 2033.3,891.9 2034.8,891.5 2036.3,892 2037.8,891.4 2039.3,892 2040.8,891.2 2042.2,892.1 2042.6,885.8 2043.2,885.8 2043.7,892.1 2045.3,891.7 2046.8,890.8 2048.3,891.6 2049.8,890.7 2051.3,891.4 2052.8,890.6 2053.2,891.5 2053.7,887 2054.3,887 2054.8,891.5 2055.8,890.5 2057.3,890.9 2058.8,890.5 2060.3,890.7 2061.8,889.9 2063.3,890.5 2064.8,889.3 2065.4,890.4 2065.9,886.6 2066.5,886.6 2066.9,890.4 2067.8,889.1 2069.3,890.2 2070.8,888.5 2072.3,889.9 2073.8,888.3 2075.3,888.7 2076.8,887.5 2078.3,887.8 2079.1,887.6 2079.5,882.9 2080.1,882.9 2080.6,887.6 2081.3,887.1 2082.8,885.4 2084.3,886.4 2085.8,884.9 2087.3,885.7 2088.1,885.4 2088.5,881.3 2089.1,881.3 2089.6,885.4 2090.3,885.1 2091.8,882.9 2093.3,885.7 2094.8,882.9 2095.7,885 2096.1,872.2 2096.7,872.2 2097.2,885 2097.8,883.4 2099.2,885.2 2099.7,877.7 2100.3,877.7 2100.8,885.2 2102.4,885.4 2102.9,874.2 2103.5,874.2 2103.9,885.4 2105.3,886.5 2106.8,884 2108.3,885.6 2109.8,882.5 2111.3,885 2112.2,883.7 2112.7,876.3 2113.3,876.3 2113.8,883.7 2114.3,883.4 2115.8,881.7 2117.3,883.7 2118.8,880.5 2119.8,882.2 2120.2,875.8 2120.8,875.8 2121.2,882.2 2121.8,879.9 2123.3,882.7 2124.8,879.6 2125.2,881.3 2125.7,876.9 2126.3,876.9 2126.8,881.3 2127.8,879.2 2129.2,880.1"/>
<path stroke="#646464" stroke-width="3.4" style="filter:drop-shadow(0 0 1px #64646470)" d="M1585.3,855.2 1586.3,870.5 1587.2,870.5 1588.7,807.5 1589.3,807.5 1590.8,864.3 1591.8,864.3 1593.5,805.8 1594.1,805.8 1595.8,858.2 1596.8,858.2 1598.2,802.4 1599.3,735.2 1600.3,735.2 1601,851.3 1602,851.3 1603.7,797.3 1604.3,797.3 1606,852 1607,852 1608.2,696.2 1609.2,696.2 1611.2,845.1 1612.2,845.1 1613.3,688.4 1614.3,688.4 1615.7,821.1 1616.3,821.1 1617.4,734.4 1618.2,734.4 1619,825.8 1619.9,825.8 1621.3,732.7 1622.5,627.5 1623.5,627.5 1625.5,742.9 1627.5,552.7 1628.6,552.7 1631,742.9 1633.5,517.3 1634.5,517.3 1636,742.9 1637.1,577.2 1638.1,577.2 1638.8,796.5 1639.6,796.5 1640.3,631.8 1641.3,631.8 1642.8,744.6 1644.2,546.5 1645.3,546.5 1646.5,698.6 1647.8,524.8 1648.8,524.8 1650.3,744.6 1652,729.3 1653.5,809.2 1654.4,809.2 1655.8,732.7 1657,582.3 1658.1,582.3 1659.4,744.6 1660.4,633 1661.4,633 1662,824.7 1663,824.7 1664.3,766.7 1664.9,766.7 1666.3,860.5 1667.3,860.5 1669.7,776.9 1670.3,776.9 1672.9,865.9 1673.9,865.9 1676,766.7 1676.6,766.7 1678.7,801.1 1679.5,801.1 1680.5,577.9 1681.6,577.9 1683.2,782.7 1684,782.7 1685.5,564.4 1686.5,564.4 1688.5,744.6 1690.5,622.1 1691.5,622.1 1693.3,744.6 1695,634.5 1696.1,634.5 1697,791.9 1697.8,791.9 1699.5,732.7 1701.4,702.4 1702.4,702.4 1703.3,838.5 1704.2,838.5 1706,703.1 1707,703.1 1708.5,822.7 1709.5,822.7 1711.2,647.2 1712.2,647.2 1713.8,766.7 1715.5,857.9 1716.5,857.9 1718.1,776.9 1718.7,776.9 1720.3,832 1721.2,832 1723.2,780.3 1723.8,780.3 1725.8,850.1 1726.8,850.1 1728.7,778.6 1729.3,778.6 1731.5,853.5 1732.4,853.5 1734.1,783.7 1734.7,783.7 1736.5,864.7 1737.5,864.7 1739.3,793.9 1739.9,793.9 1741.8,863.3 1742.8,863.3 1744.7,787.1 1745.3,787.1 1747.1,867.6 1748,867.6 1749.5,855.2 1750.1,855.2 1751.2,790.5 1751.8,790.5 1753,858.6 1753.6,858.6 1755,872.6 1755.9,872.6 1757.3,860.3 1757.9,860.3 1759.2,793.9 1759.8,793.9 1762,868.3 1762.9,868.3 1764.7,793.9 1765.3,793.9 1767.3,863.7 1768.2,863.7 1769.9,858.6 1770.5,858.6 1771.3,807.5 1771.9,807.5 1773,874.6 1773.9,874.6 1775.5,851.8 1776.1,851.8 1777.3,826.2 1777.9,826.2 1779.5,866 1780.5,866 1782.1,838.1 1782.7,838.1 1785.1,875.9 1785.7,875.9 1787.2,863.7 1788.8,882.7 1790.3,884.5 1790.5,885.1 1791,873.4 1791.6,873.4 1792,885.1 1793.3,886.6 1794.8,885.9 1796.3,887.8 1797.8,886.2 1798.5,887.4 1799,880.3 1799.6,880.3 1800,887.4 1800.8,886 1802.3,887.2 1803.8,885.9 1804.2,887.2 1804.6,880.5 1805.2,880.5 1805.7,887.2 1806.8,886.1 1808.3,887.3 1809.8,885.4 1811.3,886.9 1812.8,885.6 1814.3,887 1815.8,884.7 1817,886.3 1817.5,879.5 1818.1,879.5 1818.5,886.3 1818.8,884.9 1820.3,886.8 1821.8,884.9 1823,885.7 1823.5,877.4 1824.1,877.4 1824.5,885.7 1824.8,884.4 1826.3,885.5 1827.8,884.3 1829.3,885.4 1830.8,883.6 1832.3,885.1 1833.8,883.6 1834.3,884.8 1834.8,881.4 1835.4,881.4 1835.8,884.8 1836.8,883.5 1838.3,884.9 1839.8,883.6 1841.3,884.3 1842.3,884.3 1842.8,876.2 1843.4,876.2 1843.8,884.3 1844.3,884.4 1845.8,883 1847.3,883.9 1848.8,882.7 1850.3,883.7 1850.7,883.6 1851.1,879.5 1851.7,879.5 1852.2,883.6 1853.3,883.6 1854.8,882.2 1856.3,883.1 1857.8,882.1 1859.3,882.9 1860.8,881.7 1861.5,882.6 1862,879.8 1862.6,879.8 1863,882.6 1863.8,881.6 1865.3,882.3 1866.8,881.3 1868.3,881.7 1869.8,881.6 1870.2,879.3 1870.8,879.3 1871.2,881.6 1872.8,880.6 1874.3,880.8 1875.8,880.2 1877.3,879.9 1878.8,878.8 1880.3,878.2 1881.8,869.5 1883.3,859.2 1884.8,848.5 1886.3,837.7 1887.8,826.6 1889.3,822.2 1890.8,821.7 1892.3,825.5 1893.8,829.6 1895.3,829.2 1895.8,828.2 1896.3,870.3 1896.9,870.3 1897.3,828.2 1898.3,828.3 1899.8,830.4 1901.3,836 1902.8,836.8 1904.3,837.8 1905.8,838.6 1907.3,839.9 1908.8,841 1910.3,842.3 1911.8,846.2 1913.3,850.4 1914.8,853.5 1916.3,856.7 1917.8,859.7 1919.3,862.9 1920.8,865.1 1922.3,867.3 1923.8,869.2 1925.3,871.4 1926.8,872.8 1928.3,873.9 1929.8,874.6 1931.3,875.6 1932.8,876.2 1934.3,876.4 1935.8,876.2 1937.3,876.5 1938.8,876.2 1940.3,876 1941.8,875.6 1943.3,875.7 1944.8,875.7 1946.3,875.9 1947.8,875.8 1949.3,876 1950.8,876 1952.3,876 1953.8,875.7 1955.3,875.9 1956.8,875 1958.3,875.3 1959.8,874.6 1961,875.1 1961.4,872.9 1962,872.9 1962.5,875.1 1962.8,874.4 1964.3,874.9 1965.8,874.2 1967.3,874.9 1968.8,874.2 1970.3,874.8 1971.8,874.3 1973.3,874.6 1974.8,873.9 1976.3,874 1977.8,873.4 1979.3,873.5 1979.8,873.5 1980.3,871.5 1980.9,871.5 1981.3,873.5 1982.3,873 1983.8,872.6 1985.3,872.8 1986.8,872.5 1988.3,872.7 1989.8,872.3 1991.3,872.6 1992.2,872.9 1992.6,870.1 1993.2,870.1 1993.7,872.9 1994.3,872.6 1995.8,872.2 1997.3,872.4 1998.8,872 2000.3,872.3 2001.8,871.6 2003.3,871.8 2004.8,870.8 2006.3,871.1 2007.8,870.3 2009.3,870.4 2010.8,870.3 2011.3,868.4 2011.9,868.4 2012.3,870.3 2013.8,869.5 2015.3,869.9 2016.8,869.3 2018.3,869.6 2019.2,869.8 2019.7,868.4 2020.3,868.4 2020.8,869.8 2021.3,869.5 2022.8,869 2024.3,869.3 2025.8,868.9 2027.3,869.2 2028.8,868.5 2030.5,869.4 2030.9,867.4 2031.5,867.4 2032,869.4 2033.3,869.1 2034.8,868.8 2036.3,869.3 2037.8,868.7 2039.3,869.2 2040.8,868.6 2042.2,869.3 2042.6,864 2043.2,864 2043.7,869.3 2045.3,869 2046.8,868.3 2048.3,868.9 2049.8,868.2 2051.3,868.7 2052.8,868.1 2053.2,868.8 2053.7,865 2054.3,865 2054.8,868.8 2055.8,868 2057.3,868.4 2058.8,867.9 2060.3,868.2 2061.8,867.5 2063.3,868 2064.8,867 2065.4,867.9 2065.9,864.7 2066.5,864.7 2066.9,867.9 2067.8,866.8 2069.3,867.7 2070.8,866.3 2072.3,867.5 2073.8,866.1 2075.3,866.4 2076.8,865.4 2078.3,865.7 2079.1,865.5 2079.5,861.6 2080.1,861.6 2080.6,865.5 2081.3,865.2 2082.8,863.7 2084.3,864.5 2085.8,863.3 2087.3,863.9 2088.1,863.7 2088.5,860.3 2089.1,860.3 2089.6,863.7 2090.3,863.5 2091.8,861.6 2093.3,864 2094.8,861.6 2095.7,863.4 2096.1,852.6 2096.7,852.6 2097.2,863.4 2097.8,862 2099.2,863.5 2099.7,857.2 2100.3,857.2 2100.8,863.5 2102.4,863.7 2102.9,854.3 2103.5,854.3 2103.9,863.7 2105.3,864.6 2106.8,862.5 2108.3,863.8 2109.8,861.3 2111.3,863.3 2112.2,862.3 2112.7,856 2113.3,856 2113.8,862.3 2114.3,862 2115.8,860.6 2117.3,862.2 2118.8,859.5 2119.8,861 2120.2,855.7 2120.8,855.7 2121.2,861 2121.8,859.1 2123.3,861.4 2124.8,858.8 2125.2,860.2 2125.7,856.5 2126.3,856.5 2126.8,860.2 2127.8,858.5 2129.2,859.2"/>
<path stroke="#2e24ff" stroke-width="3.4" style="filter:drop-shadow(0 0 1px #2e24ff70)" d="M1585.3,839.5 1586.3,852.6 1587.2,852.6 1588.7,798.9 1589.3,798.9 1590.8,847.4 1591.8,847.4 1593.5,797.5 1594.1,797.5 1595.8,842.1 1596.8,842.1 1598.2,794.6 1599.3,737.3 1600.3,737.3 1601,836.2 1602,836.2 1603.7,790.2 1604.3,790.2 1606,836.9 1607,836.9 1608.2,704.1 1609.2,704.1 1611.2,830.9 1612.2,830.9 1613.3,697.5 1614.3,697.5 1615.7,810.5 1616.3,810.5 1617.4,736.6 1618.2,736.6 1619,814.5 1619.9,814.5 1621.3,735.1 1622.5,645.6 1623.5,645.6 1625.5,743.8 1627.5,581.8 1628.6,581.8 1631,743.8 1633.5,551.6 1634.5,551.6 1636,743.8 1637.1,602.7 1638.1,602.7 1638.8,789.5 1639.6,789.5 1640.3,649.2 1641.3,649.2 1642.8,745.3 1644.2,576.5 1645.3,576.5 1646.5,706.2 1647.8,558 1648.8,558 1650.3,745.3 1652,732.2 1653.5,800.4 1654.4,800.4 1655.8,735.1 1657,607 1658.1,607 1659.4,745.3 1660.4,650.2 1661.4,650.2 1662,813.5 1663,813.5 1664.3,764.1 1664.9,764.1 1666.3,844.1 1667.3,844.1 1669.7,772.8 1670.3,772.8 1672.9,848.7 1673.9,848.7 1676,764.1 1676.6,764.1 1678.7,793.4 1679.5,793.4 1680.5,603.3 1681.6,603.3 1683.2,777.8 1684,777.8 1685.5,591.8 1686.5,591.8 1688.5,745.3 1690.5,641 1691.5,641 1693.3,745.3 1695,651.5 1696.1,651.5 1697,785.6 1697.8,785.6 1699.5,735.1 1701.4,709.3 1702.4,709.3 1703.3,825.3 1704.2,825.3 1706,709.9 1707,709.9 1708.5,811.9 1709.5,811.9 1711.2,662.4 1712.2,662.4 1713.8,764.1 1715.5,841.8 1716.5,841.8 1718.1,772.8 1718.7,772.8 1720.3,819.8 1721.2,819.8 1723.2,775.7 1723.8,775.7 1725.8,835.2 1726.8,835.2 1728.7,774.3 1729.3,774.3 1731.5,838.1 1732.4,838.1 1734.1,778.6 1734.7,778.6 1736.5,847.6 1737.5,847.6 1739.3,787.3 1739.9,787.3 1741.8,846.5 1742.8,846.5 1744.7,781.5 1745.3,781.5 1747.1,850.1 1748,850.1 1749.5,839.5 1750.1,839.5 1751.2,784.4 1751.8,784.4 1753,842.4 1753.6,842.4 1755,854.4 1755.9,854.4 1757.3,843.9 1757.9,843.9 1759.2,787.3 1759.8,787.3 1762,850.7 1762.9,850.7 1764.7,787.3 1765.3,787.3 1767.3,846.8 1768.2,846.8 1769.9,842.4 1770.5,842.4 1771.3,798.9 1771.9,798.9 1773,856.1 1773.9,856.1 1775.5,836.6 1776.1,836.6 1777.3,814.9 1777.9,814.9 1779.5,848.8 1780.5,848.8 1782.1,825 1782.7,825 1785.1,857.2 1785.7,857.2 1787.2,846.8 1788.8,863 1790.3,864.6 1790.5,865 1791,855 1791.6,855 1792,865 1793.3,866.4 1794.8,865.7 1796.3,867.4 1797.8,866 1798.5,867 1799,861 1799.6,861 1800,867 1800.8,865.8 1802.3,866.8 1803.8,865.7 1804.2,866.8 1804.6,861.2 1805.2,861.2 1805.7,866.8 1806.8,865.9 1808.3,866.9 1809.8,865.3 1811.3,866.6 1812.8,865.5 1814.3,866.7 1815.8,864.7 1817,866 1817.5,860.3 1818.1,860.3 1818.5,866 1818.8,864.9 1820.3,866.5 1821.8,864.9 1823,865.6 1823.5,858.5 1824.1,858.5 1824.5,865.6 1824.8,864.5 1826.3,865.4 1827.8,864.4 1829.3,865.3 1830.8,863.7 1832.3,865 1833.8,863.7 1834.3,864.8 1834.8,861.9 1835.4,861.9 1835.8,864.8 1836.8,863.7 1838.3,864.8 1839.8,863.7 1841.3,864.3 1842.3,864.3 1842.8,857.4 1843.4,857.4 1843.8,864.3 1844.3,864.5 1845.8,863.2 1847.3,864.1 1848.8,863 1850.3,863.9 1850.7,863.8 1851.1,860.3 1851.7,860.3 1852.2,863.8 1853.3,863.8 1854.8,862.6 1856.3,863.3 1857.8,862.5 1859.3,863.2 1860.8,862.2 1861.5,862.9 1862,860.5 1862.6,860.5 1863,862.9 1863.8,862.1 1865.3,862.6 1866.8,861.8 1868.3,862.1 1869.8,862.1 1870.2,860.1 1870.8,860.1 1871.2,862.1 1872.8,861.2 1874.3,861.4 1875.8,860.8 1877.3,860.6 1878.8,859.7 1880.3,859.2 1881.8,851.8 1883.3,843 1884.8,833.9 1886.3,824.6 1887.8,815.2 1889.3,811.4 1890.8,811.1 1892.3,814.3 1893.8,817.7 1895.3,817.4 1895.8,816.6 1896.3,852.5 1896.9,852.5 1897.3,816.6 1898.3,816.6 1899.8,818.5 1901.3,823.2 1902.8,823.9 1904.3,824.7 1905.8,825.4 1907.3,826.5 1908.8,827.4 1910.3,828.6 1911.8,831.9 1913.3,835.5 1914.8,838.1 1916.3,840.9 1917.8,843.4 1919.3,846.1 1920.8,848 1922.3,849.9 1923.8,851.5 1925.3,853.3 1926.8,854.5 1928.3,855.5 1929.8,856.1 1931.3,856.9 1932.8,857.5 1934.3,857.6 1935.8,857.5 1937.3,857.7 1938.8,857.4 1940.3,857.3 1941.8,857 1943.3,857 1944.8,857 1946.3,857.2 1947.8,857.2 1949.3,857.3 1950.8,857.3 1952.3,857.3 1953.8,857 1955.3,857.2 1956.8,856.5 1958.3,856.7 1959.8,856.1 1961,856.5 1961.4,854.6 1962,854.6 1962.5,856.5 1962.8,855.9 1964.3,856.3 1965.8,855.8 1967.3,856.3 1968.8,855.8 1970.3,856.2 1971.8,855.9 1973.3,856.1 1974.8,855.5 1976.3,855.6 1977.8,855.1 1979.3,855.1 1979.8,855.2 1980.3,853.4 1980.9,853.4 1981.3,855.2 1982.3,854.8 1983.8,854.4 1985.3,854.6 1986.8,854.3 1988.3,854.5 1989.8,854.2 1991.3,854.4 1992.2,854.7 1992.6,852.3 1993.2,852.3 1993.7,854.7 1994.3,854.4 1995.8,854 1997.3,854.3 1998.8,853.9 2000.3,854.1 2001.8,853.5 2003.3,853.7 2004.8,852.9 2006.3,853.1 2007.8,852.5 2009.3,852.5 2010.8,852.5 2011.3,850.8 2011.9,850.8 2012.3,852.5 2013.8,851.7 2015.3,852.1 2016.8,851.6 2018.3,851.8 2019.2,852 2019.7,850.8 2020.3,850.8 2020.8,852 2021.3,851.7 2022.8,851.3 2024.3,851.6 2025.8,851.2 2027.3,851.5 2028.8,850.9 2030.5,851.6 2030.9,850 2031.5,850 2032,851.6 2033.3,851.4 2034.8,851.2 2036.3,851.5 2037.8,851.1 2039.3,851.5 2040.8,851 2042.2,851.6 2042.6,847.1 2043.2,847.1 2043.7,851.6 2045.3,851.3 2046.8,850.7 2048.3,851.2 2049.8,850.6 2051.3,851.1 2052.8,850.5 2053.2,851.2 2053.7,847.9 2054.3,847.9 2054.8,851.2 2055.8,850.4 2057.3,850.8 2058.8,850.4 2060.3,850.6 2061.8,850 2063.3,850.5 2064.8,849.6 2065.4,850.4 2065.9,847.6 2066.5,847.6 2066.9,850.4 2067.8,849.5 2069.3,850.3 2070.8,849.1 2072.3,850 2073.8,848.8 2075.3,849.1 2076.8,848.3 2078.3,848.5 2079.1,848.4 2079.5,845 2080.1,845 2080.6,848.4 2081.3,848 2082.8,846.8 2084.3,847.5 2085.8,846.4 2087.3,847 2088.1,846.8 2088.5,843.9 2089.1,843.9 2089.6,846.8 2090.3,846.6 2091.8,845 2093.3,847 2094.8,845 2095.7,846.5 2096.1,837.4 2096.7,837.4 2097.2,846.5 2097.8,845.4 2099.2,846.6 2099.7,841.3 2100.3,841.3 2100.8,846.6 2102.4,846.8 2102.9,838.8 2103.5,838.8 2103.9,846.8 2105.3,847.6 2106.8,845.8 2108.3,846.9 2109.8,844.8 2111.3,846.5 2112.2,845.6 2112.7,840.3 2113.3,840.3 2113.8,845.6 2114.3,845.4 2115.8,844.1 2117.3,845.6 2118.8,843.3 2119.8,844.5 2120.2,840 2120.8,840 2121.2,844.5 2121.8,842.9 2123.3,844.9 2124.8,842.6 2125.2,843.8 2125.7,840.7 2126.3,840.7 2126.8,843.8 2127.8,842.4 2129.2,843"/>
<path stroke="#30a6ff" stroke-width="3.4" style="filter:drop-shadow(0 0 1px #30a6ff70)" d="M1585.3,827.1 1586.3,838.4 1587.2,838.4 1588.7,792.1 1589.3,792.1 1590.8,833.9 1591.8,833.9 1593.5,790.9 1594.1,790.9 1595.8,829.4 1596.8,829.4 1598.2,788.4 1599.3,739 1600.3,739 1601,824.3 1602,824.3 1603.7,784.6 1604.3,784.6 1606,824.8 1607,824.8 1608.2,710.4 1609.2,710.4 1611.2,819.7 1612.2,819.7 1613.3,704.6 1614.3,704.6 1615.7,802.1 1616.3,802.1 1617.4,738.4 1618.2,738.4 1619,805.6 1619.9,805.6 1621.3,737.1 1622.5,659.9 1623.5,659.9 1625.5,744.6 1627.5,604.9 1628.6,604.9 1631,744.6 1633.5,578.9 1634.5,578.9 1636,744.6 1637.1,622.9 1638.1,622.9 1638.8,784 1639.6,784 1640.3,663 1641.3,663 1642.8,745.9 1644.2,600.4 1645.3,600.4 1646.5,712.1 1647.8,584.4 1648.8,584.4 1650.3,745.9 1652,734.6 1653.5,793.4 1654.4,793.4 1655.8,737.1 1657,626.6 1658.1,626.6 1659.4,745.9 1660.4,663.9 1661.4,663.9 1662,804.7 1663,804.7 1664.3,762.1 1664.9,762.1 1666.3,831.1 1667.3,831.1 1669.7,769.6 1670.3,769.6 1672.9,835 1673.9,835 1676,762.1 1676.6,762.1 1678.7,787.4 1679.5,787.4 1680.5,623.4 1681.6,623.4 1683.2,773.9 1684,773.9 1685.5,613.5 1686.5,613.5 1688.5,745.9 1690.5,655.9 1691.5,655.9 1693.3,745.9 1695,665 1696.1,665 1697,780.6 1697.8,780.6 1699.5,737.1 1701.4,714.9 1702.4,714.9 1703.3,814.9 1704.2,814.9 1706,715.4 1707,715.4 1708.5,803.3 1709.5,803.3 1711.2,674.4 1712.2,674.4 1713.8,762.1 1715.5,829.1 1716.5,829.1 1718.1,769.6 1718.7,769.6 1720.3,810.1 1721.2,810.1 1723.2,772.1 1723.8,772.1 1725.8,823.4 1726.8,823.4 1728.7,770.9 1729.3,770.9 1731.5,825.9 1732.4,825.9 1734.1,774.6 1734.7,774.6 1736.5,834.1 1737.5,834.1 1739.3,782.1 1739.9,782.1 1741.8,833.1 1742.8,833.1 1744.7,777.1 1745.3,777.1 1747.1,836.3 1748,836.3 1749.5,827.1 1750.1,827.1 1751.2,779.6 1751.8,779.6 1753,829.6 1753.6,829.6 1755,840 1755.9,840 1757.3,830.9 1757.9,830.9 1759.2,782.1 1759.8,782.1 1762,836.8 1762.9,836.8 1764.7,782.1 1765.3,782.1 1767.3,833.4 1768.2,833.4 1769.9,829.6 1770.5,829.6 1771.3,792.1 1771.9,792.1 1773,841.4 1773.9,841.4 1775.5,824.6 1776.1,824.6 1777.3,805.9 1777.9,805.9 1779.5,835.1 1780.5,835.1 1782.1,814.6 1782.7,814.6 1785.1,842.4 1785.7,842.4 1787.2,833.4 1788.8,847.4 1790.3,848.7 1790.5,849.1 1791,840.5 1791.6,840.5 1792,849.1 1793.3,850.3 1794.8,849.7 1796.3,851.1 1797.8,849.9 1798.5,850.8 1799,845.6 1799.6,845.6 1800,850.8 1800.8,849.7 1802.3,850.7 1803.8,849.7 1804.2,850.6 1804.6,845.8 1805.2,845.8 1805.7,850.6 1806.8,849.8 1808.3,850.7 1809.8,849.3 1811.3,850.4 1812.8,849.5 1814.3,850.5 1815.8,848.8 1817,850 1817.5,845 1818.1,845 1818.5,850 1818.8,849 1820.3,850.3 1821.8,849 1823,849.6 1823.5,843.5 1824.1,843.5 1824.5,849.6 1824.8,848.6 1826.3,849.4 1827.8,848.6 1829.3,849.4 1830.8,848 1832.3,849.1 1833.8,848 1834.3,848.9 1834.8,846.4 1835.4,846.4 1835.8,848.9 1836.8,848 1838.3,849 1839.8,848 1841.3,848.5 1842.3,848.5 1842.8,842.6 1843.4,842.6 1843.8,848.5 1844.3,848.6 1845.8,847.6 1847.3,848.3 1848.8,847.4 1850.3,848.1 1850.7,848 1851.1,845 1851.7,845 1852.2,848 1853.3,848 1854.8,847 1856.3,847.6 1857.8,846.9 1859.3,847.5 1860.8,846.6 1861.5,847.3 1862,845.2 1862.6,845.2 1863,847.3 1863.8,846.6 1865.3,847 1866.8,846.4 1868.3,846.6 1869.8,846.6 1870.2,844.9 1870.8,844.9 1871.2,846.6 1872.8,845.8 1874.3,846 1875.8,845.5 1877.3,845.3 1878.8,844.5 1880.3,844.1 1881.8,837.7 1883.3,830.1 1884.8,822.2 1886.3,814.3 1887.8,806.1 1889.3,802.9 1890.8,802.6 1892.3,805.3 1893.8,808.3 1895.3,808.1 1895.8,807.4 1896.3,838.3 1896.9,838.3 1897.3,807.4 1898.3,807.4 1899.8,809 1901.3,813.1 1902.8,813.6 1904.3,814.4 1905.8,814.9 1907.3,815.9 1908.8,816.7 1910.3,817.7 1911.8,820.6 1913.3,823.6 1914.8,825.9 1916.3,828.3 1917.8,830.5 1919.3,832.8 1920.8,834.4 1922.3,836 1923.8,837.4 1925.3,839 1926.8,840.1 1928.3,840.9 1929.8,841.4 1931.3,842.1 1932.8,842.6 1934.3,842.7 1935.8,842.6 1937.3,842.8 1938.8,842.6 1940.3,842.4 1941.8,842.2 1943.3,842.2 1944.8,842.2 1946.3,842.4 1947.8,842.3 1949.3,842.5 1950.8,842.4 1952.3,842.5 1953.8,842.2 1955.3,842.3 1956.8,841.7 1958.3,841.9 1959.8,841.4 1961,841.8 1961.4,840.1 1962,840.1 1962.5,841.8 1962.8,841.3 1964.3,841.6 1965.8,841.2 1967.3,841.6 1968.8,841.1 1970.3,841.5 1971.8,841.2 1973.3,841.4 1974.8,840.9 1976.3,841 1977.8,840.5 1979.3,840.6 1979.8,840.6 1980.3,839.1 1980.9,839.1 1981.3,840.6 1982.3,840.3 1983.8,840 1985.3,840.1 1986.8,839.9 1988.3,840 1989.8,839.7 1991.3,840 1992.2,840.2 1992.6,838.1 1993.2,838.1 1993.7,840.2 1994.3,840 1995.8,839.6 1997.3,839.8 1998.8,839.5 2000.3,839.7 2001.8,839.2 2003.3,839.3 2004.8,838.6 2006.3,838.8 2007.8,838.3 2009.3,838.3 2010.8,838.3 2011.3,836.9 2011.9,836.9 2012.3,838.3 2013.8,837.7 2015.3,838 2016.8,837.5 2018.3,837.7 2019.2,837.9 2019.7,836.9 2020.3,836.9 2020.8,837.9 2021.3,837.7 2022.8,837.3 2024.3,837.5 2025.8,837.2 2027.3,837.4 2028.8,836.9 2030.5,837.6 2030.9,836.1 2031.5,836.1 2032,837.6 2033.3,837.4 2034.8,837.2 2036.3,837.5 2037.8,837.1 2039.3,837.4 2040.8,837 2042.2,837.5 2042.6,833.6 2043.2,833.6 2043.7,837.5 2045.3,837.3 2046.8,836.8 2048.3,837.2 2049.8,836.7 2051.3,837.1 2052.8,836.6 2053.2,837.2 2053.7,834.4 2054.3,834.4 2054.8,837.2 2055.8,836.5 2057.3,836.8 2058.8,836.5 2060.3,836.7 2061.8,836.2 2063.3,836.6 2064.8,835.8 2065.4,836.5 2065.9,834.1 2066.5,834.1 2066.9,836.5 2067.8,835.7 2069.3,836.4 2070.8,835.3 2072.3,836.2 2073.8,835.2 2075.3,835.4 2076.8,834.7 2078.3,834.9 2079.1,834.7 2079.5,831.9 2080.1,831.9 2080.6,834.7 2081.3,834.5 2082.8,833.4 2084.3,834 2085.8,833.1 2087.3,833.6 2088.1,833.4 2088.5,830.9 2089.1,830.9 2089.6,833.4 2090.3,833.2 2091.8,831.9 2093.3,833.6 2094.8,831.9 2095.7,833.1 2096.1,825.2 2096.7,825.2 2097.2,833.1 2097.8,832.2 2099.2,833.3 2099.7,828.6 2100.3,828.6 2100.8,833.3 2102.4,833.4 2102.9,826.5 2103.5,826.5 2103.9,833.4 2105.3,834 2106.8,832.5 2108.3,833.5 2109.8,831.6 2111.3,833.1 2112.2,832.4 2112.7,827.8 2113.3,827.8 2113.8,832.4 2114.3,832.2 2115.8,831.1 2117.3,832.3 2118.8,830.3 2119.8,831.4 2120.2,827.5 2120.8,827.5 2121.2,831.4 2121.8,830 2123.3,831.7 2124.8,829.8 2125.2,830.8 2125.7,828.1 2126.3,828.1 2126.8,830.8 2127.8,829.6 2129.2,830.1"/>
<path stroke="#a2660c" stroke-width="3.4" style="filter:drop-shadow(0 0 1px #a2660c70)" d="M1585.3,817.1 1586.3,826.9 1587.2,826.9 1588.7,786.6 1589.3,786.6 1590.8,823 1591.8,823 1593.5,785.5 1594.1,785.5 1595.8,819.1 1596.8,819.1 1598.2,783.4 1599.3,740.3 1600.3,740.3 1601,814.6 1602,814.6 1603.7,780.1 1604.3,780.1 1606,815.1 1607,815.1 1608.2,715.4 1609.2,715.4 1611.2,810.7 1612.2,810.7 1613.3,710.4 1614.3,710.4 1615.7,795.3 1616.3,795.3 1617.4,739.8 1618.2,739.8 1619,798.3 1619.9,798.3 1621.3,738.7 1622.5,671.4 1623.5,671.4 1625.5,745.3 1627.5,623.6 1628.6,623.6 1631,745.3 1633.5,600.9 1634.5,600.9 1636,745.3 1637.1,639.2 1638.1,639.2 1638.8,779.6 1639.6,779.6 1640.3,674.2 1641.3,674.2 1642.8,746.3 1644.2,619.6 1645.3,619.6 1646.5,716.9 1647.8,605.7 1648.8,605.7 1650.3,746.3 1652,736.5 1653.5,787.7 1654.4,787.7 1655.8,738.7 1657,642.5 1658.1,642.5 1659.4,746.3 1660.4,674.9 1661.4,674.9 1662,797.6 1663,797.6 1664.3,760.5 1664.9,760.5 1666.3,820.6 1667.3,820.6 1669.7,767 1670.3,767 1672.9,824 1673.9,824 1676,760.5 1676.6,760.5 1678.7,782.5 1679.5,782.5 1680.5,639.7 1681.6,639.7 1683.2,770.7 1684,770.7 1685.5,631 1686.5,631 1688.5,746.3 1690.5,668 1691.5,668 1693.3,746.3 1695,675.9 1696.1,675.9 1697,776.6 1697.8,776.6 1699.5,738.7 1701.4,719.3 1702.4,719.3 1703.3,806.4 1704.2,806.4 1706,719.8 1707,719.8 1708.5,796.4 1709.5,796.4 1711.2,684.1 1712.2,684.1 1713.8,760.5 1715.5,818.9 1716.5,818.9 1718.1,767 1718.7,767 1720.3,802.3 1721.2,802.3 1723.2,769.2 1723.8,769.2 1725.8,813.9 1726.8,813.9 1728.7,768.1 1729.3,768.1 1731.5,816 1732.4,816 1734.1,771.4 1734.7,771.4 1736.5,823.2 1737.5,823.2 1739.3,777.9 1739.9,777.9 1741.8,822.3 1742.8,822.3 1744.7,773.6 1745.3,773.6 1747.1,825.1 1748,825.1 1749.5,817.1 1750.1,817.1 1751.2,775.7 1751.8,775.7 1753,819.3 1753.6,819.3 1755,828.3 1755.9,828.3 1757.3,820.4 1757.9,820.4 1759.2,777.9 1759.8,777.9 1762,825.5 1762.9,825.5 1764.7,777.9 1765.3,777.9 1767.3,822.6 1768.2,822.6 1769.9,819.3 1770.5,819.3 1771.3,786.6 1771.9,786.6 1773,829.5 1773.9,829.5 1775.5,814.9 1776.1,814.9 1777.3,798.6 1777.9,798.6 1779.5,824.1 1780.5,824.1 1782.1,806.2 1782.7,806.2 1785.1,830.4 1785.7,830.4 1787.2,822.6 1788.8,834.8 1790.3,835.9 1790.5,836.3 1791,828.8 1791.6,828.8 1792,836.3 1793.3,837.3 1794.8,836.8 1796.3,838 1797.8,837 1798.5,837.7 1799,833.2 1799.6,833.2 1800,837.7 1800.8,836.8 1802.3,837.6 1803.8,836.8 1804.2,837.6 1804.6,833.4 1805.2,833.4 1805.7,837.6 1806.8,836.9 1808.3,837.7 1809.8,836.4 1811.3,837.4 1812.8,836.6 1814.3,837.5 1815.8,836 1817,837 1817.5,832.7 1818.1,832.7 1818.5,837 1818.8,836.2 1820.3,837.3 1821.8,836.2 1823,836.7 1823.5,831.4 1824.1,831.4 1824.5,836.7 1824.8,835.9 1826.3,836.6 1827.8,835.8 1829.3,836.5 1830.8,835.3 1832.3,836.3 1833.8,835.3 1834.3,836.1 1834.8,833.9 1835.4,833.9 1835.8,836.1 1836.8,835.3 1838.3,836.1 1839.8,835.3 1841.3,835.8 1842.3,835.7 1842.8,830.6 1843.4,830.6 1843.8,835.7 1844.3,835.9 1845.8,834.9 1847.3,835.5 1848.8,834.7 1850.3,835.4 1850.7,835.3 1851.1,832.7 1851.7,832.7 1852.2,835.3 1853.3,835.3 1854.8,834.4 1856.3,835 1857.8,834.3 1859.3,834.9 1860.8,834.1 1861.5,834.7 1862,832.9 1862.6,832.9 1863,834.7 1863.8,834.1 1865.3,834.5 1866.8,833.9 1868.3,834.1 1869.8,834.1 1870.2,832.6 1870.8,832.6 1871.2,834.1 1872.8,833.4 1874.3,833.5 1875.8,833.1 1877.3,832.9 1878.8,832.2 1880.3,831.9 1881.8,826.3 1883.3,819.7 1884.8,812.9 1886.3,805.9 1887.8,798.8 1889.3,796 1890.8,795.7 1892.3,798.1 1893.8,800.7 1895.3,800.5 1895.8,799.9 1896.3,826.8 1896.9,826.8 1897.3,799.9 1898.3,799.9 1899.8,801.3 1901.3,804.9 1902.8,805.4 1904.3,806 1905.8,806.5 1907.3,807.3 1908.8,808 1910.3,808.9 1911.8,811.4 1913.3,814.1 1914.8,816.1 1916.3,818.1 1917.8,820 1919.3,822.1 1920.8,823.5 1922.3,824.9 1923.8,826.1 1925.3,827.5 1926.8,828.4 1928.3,829.1 1929.8,829.5 1931.3,830.2 1932.8,830.6 1934.3,830.7 1935.8,830.6 1937.3,830.8 1938.8,830.6 1940.3,830.5 1941.8,830.2 1943.3,830.3 1944.8,830.2 1946.3,830.4 1947.8,830.4 1949.3,830.5 1950.8,830.5 1952.3,830.5 1953.8,830.3 1955.3,830.4 1956.8,829.8 1958.3,830 1959.8,829.6 1961,829.9 1961.4,828.4 1962,828.4 1962.5,829.9 1962.8,829.4 1964.3,829.7 1965.8,829.3 1967.3,829.7 1968.8,829.3 1970.3,829.7 1971.8,829.4 1973.3,829.5 1974.8,829.1 1976.3,829.2 1977.8,828.8 1979.3,828.8 1979.8,828.9 1980.3,827.6 1980.9,827.6 1981.3,828.9 1982.3,828.6 1983.8,828.3 1985.3,828.4 1986.8,828.2 1988.3,828.4 1989.8,828.1 1991.3,828.3 1992.2,828.5 1992.6,826.7 1993.2,826.7 1993.7,828.5 1994.3,828.3 1995.8,828 1997.3,828.2 1998.8,827.9 2000.3,828.1 2001.8,827.6 2003.3,827.8 2004.8,827.1 2006.3,827.3 2007.8,826.8 2009.3,826.9 2010.8,826.8 2011.3,825.6 2011.9,825.6 2012.3,826.8 2013.8,826.3 2015.3,826.6 2016.8,826.2 2018.3,826.3 2019.2,826.5 2019.7,825.6 2020.3,825.6 2020.8,826.5 2021.3,826.3 2022.8,826 2024.3,826.2 2025.8,825.9 2027.3,826.1 2028.8,825.6 2030.5,826.2 2030.9,825 2031.5,825 2032,826.2 2033.3,826.1 2034.8,825.9 2036.3,826.1 2037.8,825.8 2039.3,826.1 2040.8,825.7 2042.2,826.2 2042.6,822.8 2043.2,822.8 2043.7,826.2 2045.3,826 2046.8,825.5 2048.3,825.9 2049.8,825.5 2051.3,825.8 2052.8,825.4 2053.2,825.9 2053.7,823.4 2054.3,823.4 2054.8,825.9 2055.8,825.3 2057.3,825.6 2058.8,825.3 2060.3,825.5 2061.8,825 2063.3,825.3 2064.8,824.7 2065.4,825.3 2065.9,823.2 2066.5,823.2 2066.9,825.3 2067.8,824.6 2069.3,825.2 2070.8,824.3 2072.3,825 2073.8,824.1 2075.3,824.3 2076.8,823.7 2078.3,823.9 2079.1,823.8 2079.5,821.3 2080.1,821.3 2080.6,823.8 2081.3,823.5 2082.8,822.6 2084.3,823.1 2085.8,822.3 2087.3,822.7 2088.1,822.6 2088.5,820.4 2089.1,820.4 2089.6,822.6 2090.3,822.4 2091.8,821.3 2093.3,822.8 2094.8,821.2 2095.7,822.4 2096.1,815.5 2096.7,815.5 2097.2,822.4 2097.8,821.5 2099.2,822.5 2099.7,818.4 2100.3,818.4 2100.8,822.5 2102.4,822.6 2102.9,816.6 2103.5,816.6 2103.9,822.6 2105.3,823.2 2106.8,821.8 2108.3,822.7 2109.8,821 2111.3,822.4 2112.2,821.7 2112.7,817.7 2113.3,817.7 2113.8,821.7 2114.3,821.5 2115.8,820.6 2117.3,821.6 2118.8,819.9 2119.8,820.9 2120.2,817.4 2120.8,817.4 2121.2,820.9 2121.8,819.6 2123.3,821.1 2124.8,819.5 2125.2,820.4 2125.7,818 2126.3,818 2126.8,820.4 2127.8,819.2 2129.2,819.7"/>
<path stroke="#ff6a00" stroke-width="5" style="filter:drop-shadow(0 0 1px #ff6a0070)" d="M1585.3,808.9 1586.3,817.5 1587.2,817.5 1588.7,782.1 1589.3,782.1 1590.8,814.1 1591.8,814.1 1593.5,781.2 1594.1,781.2 1595.8,810.7 1596.8,810.7 1598.2,779.3 1599.3,741.4 1600.3,741.4 1601,806.7 1602,806.7 1603.7,776.4 1604.3,776.4 1606,807.2 1607,807.2 1608.2,719.5 1609.2,719.5 1611.2,803.3 1612.2,803.3 1613.3,715.1 1614.3,715.1 1615.7,789.8 1616.3,789.8 1617.4,741 1618.2,741 1619,792.4 1619.9,792.4 1621.3,740 1622.5,680.9 1623.5,680.9 1625.5,745.8 1627.5,638.8 1628.6,638.8 1631,745.8 1633.5,618.9 1634.5,618.9 1636,745.8 1637.1,652.6 1638.1,652.6 1638.8,775.9 1639.6,775.9 1640.3,683.3 1641.3,683.3 1642.8,746.7 1644.2,635.3 1645.3,635.3 1646.5,720.9 1647.8,623.1 1648.8,623.1 1650.3,746.7 1652,738.1 1653.5,783.1 1654.4,783.1 1655.8,740 1657,655.4 1658.1,655.4 1659.4,746.7 1660.4,683.9 1661.4,683.9 1662,791.8 1663,791.8 1664.3,759.2 1664.9,759.2 1666.3,812 1667.3,812 1669.7,764.9 1670.3,764.9 1672.9,815 1673.9,815 1676,759.2 1676.6,759.2 1678.7,778.5 1679.5,778.5 1680.5,653 1681.6,653 1683.2,768.2 1684,768.2 1685.5,645.4 1686.5,645.4 1688.5,746.7 1690.5,677.9 1691.5,677.9 1693.3,746.7 1695,684.8 1696.1,684.8 1697,773.3 1697.8,773.3 1699.5,740 1701.4,723 1702.4,723 1703.3,799.6 1704.2,799.6 1706,723.4 1707,723.4 1708.5,790.7 1709.5,790.7 1711.2,692 1712.2,692 1713.8,759.2 1715.5,810.5 1716.5,810.5 1718.1,764.9 1718.7,764.9 1720.3,795.9 1721.2,795.9 1723.2,766.8 1723.8,766.8 1725.8,806.1 1726.8,806.1 1728.7,765.9 1729.3,765.9 1731.5,808 1732.4,808 1734.1,768.7 1734.7,768.7 1736.5,814.3 1737.5,814.3 1739.3,774.5 1739.9,774.5 1741.8,813.5 1742.8,813.5 1744.7,770.7 1745.3,770.7 1747.1,815.9 1748,815.9 1749.5,808.9 1750.1,808.9 1751.2,772.6 1751.8,772.6 1753,810.8 1753.6,810.8 1755,818.8 1755.9,818.8 1757.3,811.8 1757.9,811.8 1759.2,774.5 1759.8,774.5 1762,816.3 1762.9,816.3 1764.7,774.5 1765.3,774.5 1767.3,813.7 1768.2,813.7 1769.9,810.8 1770.5,810.8 1771.3,782.1 1771.9,782.1 1773,819.8 1773.9,819.8 1775.5,807 1776.1,807 1777.3,792.7 1777.9,792.7 1779.5,815.1 1780.5,815.1 1782.1,799.4 1782.7,799.4 1785.1,820.6 1785.7,820.6 1787.2,813.7 1788.8,824.4 1790.3,825.5 1790.5,825.8 1791,819.2 1791.6,819.2 1792,825.8 1793.3,826.6 1794.8,826.2 1796.3,827.3 1797.8,826.4 1798.5,827.1 1799,823.1 1799.6,823.1 1800,827.1 1800.8,826.3 1802.3,827 1803.8,826.2 1804.2,826.9 1804.6,823.2 1805.2,823.2 1805.7,826.9 1806.8,826.3 1808.3,827 1809.8,825.9 1811.3,826.8 1812.8,826 1814.3,826.9 1815.8,825.6 1817,826.4 1817.5,822.6 1818.1,822.6 1818.5,826.4 1818.8,825.7 1820.3,826.7 1821.8,825.7 1823,826.1 1823.5,821.5 1824.1,821.5 1824.5,826.1 1824.8,825.4 1826.3,826 1827.8,825.3 1829.3,826 1830.8,824.9 1832.3,825.8 1833.8,824.9 1834.3,825.6 1834.8,823.7 1835.4,823.7 1835.8,825.6 1836.8,824.9 1838.3,825.6 1839.8,824.9 1841.3,825.3 1842.3,825.3 1842.8,820.8 1843.4,820.8 1843.8,825.3 1844.3,825.4 1845.8,824.6 1847.3,825.1 1848.8,824.4 1850.3,825 1850.7,824.9 1851.1,822.6 1851.7,822.6 1852.2,824.9 1853.3,824.9 1854.8,824.2 1856.3,824.6 1857.8,824.1 1859.3,824.5 1860.8,823.9 1861.5,824.4 1862,822.8 1862.6,822.8 1863,824.4 1863.8,823.8 1865.3,824.2 1866.8,823.7 1868.3,823.8 1869.8,823.8 1870.2,822.5 1870.8,822.5 1871.2,823.8 1872.8,823.2 1874.3,823.4 1875.8,823 1877.3,822.8 1878.8,822.2 1880.3,821.9 1881.8,817 1883.3,811.2 1884.8,805.2 1886.3,799.1 1887.8,792.9 1889.3,790.4 1890.8,790.1 1892.3,792.3 1893.8,794.5 1895.3,794.3 1895.8,793.8 1896.3,817.5 1896.9,817.5 1897.3,793.8 1898.3,793.8 1899.8,795 1901.3,798.2 1902.8,798.6 1904.3,799.2 1905.8,799.6 1907.3,800.3 1908.8,800.9 1910.3,801.7 1911.8,803.9 1913.3,806.3 1914.8,808 1916.3,809.8 1917.8,811.5 1919.3,813.3 1920.8,814.5 1922.3,815.8 1923.8,816.8 1925.3,818.1 1926.8,818.8 1928.3,819.4 1929.8,819.8 1931.3,820.4 1932.8,820.8 1934.3,820.9 1935.8,820.8 1937.3,820.9 1938.8,820.7 1940.3,820.6 1941.8,820.4 1943.3,820.5 1944.8,820.5 1946.3,820.6 1947.8,820.6 1949.3,820.7 1950.8,820.7 1952.3,820.7 1953.8,820.5 1955.3,820.6 1956.8,820.1 1958.3,820.3 1959.8,819.9 1961,820.1 1961.4,818.9 1962,818.9 1962.5,820.1 1962.8,819.8 1964.3,820 1965.8,819.7 1967.3,820 1968.8,819.7 1970.3,820 1971.8,819.7 1973.3,819.8 1974.8,819.4 1976.3,819.5 1977.8,819.2 1979.3,819.2 1979.8,819.3 1980.3,818.1 1980.9,818.1 1981.3,819.3 1982.3,819 1983.8,818.8 1985.3,818.9 1986.8,818.7 1988.3,818.8 1989.8,818.6 1991.3,818.8 1992.2,818.9 1992.6,817.4 1993.2,817.4 1993.7,818.9 1994.3,818.8 1995.8,818.5 1997.3,818.7 1998.8,818.4 2000.3,818.6 2001.8,818.2 2003.3,818.3 2004.8,817.7 2006.3,817.9 2007.8,817.5 2009.3,817.5 2010.8,817.5 2011.3,816.4 2011.9,816.4 2012.3,817.5 2013.8,817 2015.3,817.2 2016.8,816.9 2018.3,817 2019.2,817.2 2019.7,816.4 2020.3,816.4 2020.8,817.2 2021.3,817 2022.8,816.7 2024.3,816.9 2025.8,816.6 2027.3,816.8 2028.8,816.4 2030.5,816.9 2030.9,815.8 2031.5,815.8 2032,816.9 2033.3,816.8 2034.8,816.6 2036.3,816.9 2037.8,816.6 2039.3,816.8 2040.8,816.5 2042.2,816.9 2042.6,813.9 2043.2,813.9 2043.7,816.9 2045.3,816.7 2046.8,816.3 2048.3,816.6 2049.8,816.3 2051.3,816.6 2052.8,816.2 2053.2,816.6 2053.7,814.5 2054.3,814.5 2054.8,816.6 2055.8,816.1 2057.3,816.4 2058.8,816.1 2060.3,816.3 2061.8,815.8 2063.3,816.2 2064.8,815.6 2065.4,816.1 2065.9,814.3 2066.5,814.3 2066.9,816.1 2067.8,815.5 2069.3,816 2070.8,815.2 2072.3,815.9 2073.8,815.1 2075.3,815.3 2076.8,814.7 2078.3,814.9 2079.1,814.8 2079.5,812.6 2080.1,812.6 2080.6,814.8 2081.3,814.6 2082.8,813.7 2084.3,814.2 2085.8,813.5 2087.3,813.9 2088.1,813.7 2088.5,811.8 2089.1,811.8 2089.6,813.7 2090.3,813.6 2091.8,812.6 2093.3,813.9 2094.8,812.6 2095.7,813.5 2096.1,807.5 2096.7,807.5 2097.2,813.5 2097.8,812.8 2099.2,813.6 2099.7,810.1 2100.3,810.1 2100.8,813.6 2102.4,813.7 2102.9,808.5 2103.5,808.5 2103.9,813.7 2105.3,814.2 2106.8,813.1 2108.3,813.8 2109.8,812.4 2111.3,813.5 2112.2,813 2112.7,809.4 2113.3,809.4 2113.8,813 2114.3,812.8 2115.8,812 2117.3,812.9 2118.8,811.4 2119.8,812.2 2120.2,809.2 2120.8,809.2 2121.2,812.2 2121.8,811.1 2123.3,812.5 2124.8,811 2125.2,811.8 2125.7,809.7 2126.3,809.7 2126.8,811.8 2127.8,810.8 2129.2,811.2"/>
<path stroke="#ffa091" stroke-width="3.4" style="filter:drop-shadow(0 0 1px #ffa09170)" d="M1585.3,787.5 1586.3,793 1587.2,793 1588.7,770.4 1589.3,770.4 1590.8,790.8 1591.8,790.8 1593.5,769.8 1594.1,769.8 1595.8,788.6 1596.8,788.6 1598.2,768.5 1599.3,744.3 1600.3,744.3 1601,786.1 1602,786.1 1603.7,766.7 1604.3,766.7 1606,786.4 1607,786.4 1608.2,730.3 1609.2,730.3 1611.2,783.9 1612.2,783.9 1613.3,727.5 1614.3,727.5 1615.7,775.3 1616.3,775.3 1617.4,744 1618.2,744 1619,777 1619.9,777 1621.3,743.4 1622.5,705.6 1623.5,705.6 1625.5,747.1 1627.5,678.7 1628.6,678.7 1631,747.1 1633.5,665.9 1634.5,665.9 1636,747.1 1637.1,687.5 1638.1,687.5 1638.8,766.4 1639.6,766.4 1640.3,707.1 1641.3,707.1 1642.8,747.7 1644.2,676.4 1645.3,676.4 1646.5,731.2 1647.8,668.6 1648.8,668.6 1650.3,747.7 1652,742.2 1653.5,771 1654.4,771 1655.8,743.4 1657,689.3 1658.1,689.3 1659.4,747.7 1660.4,707.5 1661.4,707.5 1662,776.6 1663,776.6 1664.3,755.7 1664.9,755.7 1666.3,789.5 1667.3,789.5 1669.7,759.4 1670.3,759.4 1672.9,791.4 1673.9,791.4 1676,755.7 1676.6,755.7 1678.7,768.1 1679.5,768.1 1680.5,687.7 1681.6,687.7 1683.2,761.4 1684,761.4 1685.5,682.9 1686.5,682.9 1688.5,747.7 1690.5,703.6 1691.5,703.6 1693.3,747.7 1695,708.1 1696.1,708.1 1697,764.8 1697.8,764.8 1699.5,743.4 1701.4,732.5 1702.4,732.5 1703.3,781.5 1704.2,781.5 1706,732.8 1707,732.8 1708.5,775.9 1709.5,775.9 1711.2,712.7 1712.2,712.7 1713.8,755.7 1715.5,788.5 1716.5,788.5 1718.1,759.4 1718.7,759.4 1720.3,779.2 1721.2,779.2 1723.2,760.6 1723.8,760.6 1725.8,785.7 1726.8,785.7 1728.7,760 1729.3,760 1731.5,786.9 1732.4,786.9 1734.1,761.8 1734.7,761.8 1736.5,791 1737.5,791 1739.3,765.5 1739.9,765.5 1741.8,790.5 1742.8,790.5 1744.7,763 1745.3,763 1747.1,792 1748,792 1749.5,787.5 1750.1,787.5 1751.2,764.3 1751.8,764.3 1753,788.8 1753.6,788.8 1755,793.8 1755.9,793.8 1757.3,789.4 1757.9,789.4 1759.2,765.5 1759.8,765.5 1762,792.3 1762.9,792.3 1764.7,765.5 1765.3,765.5 1767.3,790.6 1768.2,790.6 1769.9,788.8 1770.5,788.8 1771.3,770.4 1771.9,770.4 1773,794.5 1773.9,794.5 1775.5,786.3 1776.1,786.3 1777.3,777.1 1777.9,777.1 1779.5,791.5 1780.5,791.5 1782.1,781.4 1782.7,781.4 1785.1,795 1785.7,795 1787.2,790.6 1788.8,797.5 1790.3,798.1 1790.5,798.3 1791,794.1 1791.6,794.1 1792,798.3 1793.3,798.9 1794.8,798.6 1796.3,799.3 1797.8,798.7 1798.5,799.1 1799,796.6 1799.6,796.6 1800,799.1 1800.8,798.6 1802.3,799.1 1803.8,798.6 1804.2,799.1 1804.6,796.7 1805.2,796.7 1805.7,799.1 1806.8,798.7 1808.3,799.1 1809.8,798.4 1811.3,799 1812.8,798.5 1814.3,799 1815.8,798.2 1817,798.7 1817.5,796.3 1818.1,796.3 1818.5,798.7 1818.8,798.2 1820.3,798.9 1821.8,798.2 1823,798.5 1823.5,795.6 1824.1,795.6 1824.5,798.5 1824.8,798.1 1826.3,798.5 1827.8,798 1829.3,798.4 1830.8,797.8 1832.3,798.3 1833.8,797.8 1834.3,798.2 1834.8,797 1835.4,797 1835.8,798.2 1836.8,797.8 1838.3,798.2 1839.8,797.8 1841.3,798 1842.3,798 1842.8,795.1 1843.4,795.1 1843.8,798 1844.3,798.1 1845.8,797.6 1847.3,797.9 1848.8,797.5 1850.3,797.8 1850.7,797.8 1851.1,796.3 1851.7,796.3 1852.2,797.8 1853.3,797.8 1854.8,797.3 1856.3,797.6 1857.8,797.2 1859.3,797.5 1860.8,797.1 1861.5,797.4 1862,796.4 1862.6,796.4 1863,797.4 1863.8,797.1 1865.3,797.3 1866.8,797 1868.3,797.1 1869.8,797.1 1870.2,796.2 1870.8,796.2 1871.2,797.1 1872.8,796.7 1874.3,796.8 1875.8,796.5 1877.3,796.4 1878.8,796 1880.3,795.8 1881.8,792.7 1883.3,789 1884.8,785.1 1886.3,781.2 1887.8,777.2 1889.3,775.7 1890.8,775.5 1892.3,776.9 1893.8,778.3 1895.3,778.2 1895.8,777.8 1896.3,793 1896.9,793 1897.3,777.8 1898.3,777.9 1899.8,778.6 1901.3,780.7 1902.8,780.9 1904.3,781.3 1905.8,781.6 1907.3,782 1908.8,782.4 1910.3,782.9 1911.8,784.3 1913.3,785.8 1914.8,786.9 1916.3,788.1 1917.8,789.2 1919.3,790.3 1920.8,791.1 1922.3,791.9 1923.8,792.6 1925.3,793.4 1926.8,793.9 1928.3,794.3 1929.8,794.5 1931.3,794.9 1932.8,795.1 1934.3,795.2 1935.8,795.1 1937.3,795.2 1938.8,795.1 1940.3,795 1941.8,794.9 1943.3,794.9 1944.8,794.9 1946.3,795 1947.8,795 1949.3,795.1 1950.8,795 1952.3,795.1 1953.8,794.9 1955.3,795 1956.8,794.7 1958.3,794.8 1959.8,794.5 1961,794.7 1961.4,793.9 1962,793.9 1962.5,794.7 1962.8,794.5 1964.3,794.6 1965.8,794.4 1967.3,794.6 1968.8,794.4 1970.3,794.6 1971.8,794.4 1973.3,794.5 1974.8,794.3 1976.3,794.3 1977.8,794.1 1979.3,794.1 1979.8,794.2 1980.3,793.4 1980.9,793.4 1981.3,794.2 1982.3,794 1983.8,793.8 1985.3,793.9 1986.8,793.8 1988.3,793.9 1989.8,793.7 1991.3,793.8 1992.2,793.9 1992.6,792.9 1993.2,792.9 1993.7,793.9 1994.3,793.8 1995.8,793.7 1997.3,793.8 1998.8,793.6 2000.3,793.7 2001.8,793.5 2003.3,793.5 2004.8,793.2 2006.3,793.3 2007.8,793 2009.3,793 2010.8,793 2011.3,792.3 2011.9,792.3 2012.3,793 2013.8,792.7 2015.3,792.8 2016.8,792.6 2018.3,792.7 2019.2,792.8 2019.7,792.3 2020.3,792.3 2020.8,792.8 2021.3,792.7 2022.8,792.5 2024.3,792.6 2025.8,792.5 2027.3,792.6 2028.8,792.3 2030.5,792.6 2030.9,791.9 2031.5,791.9 2032,792.6 2033.3,792.6 2034.8,792.5 2036.3,792.6 2037.8,792.4 2039.3,792.6 2040.8,792.4 2042.2,792.6 2042.6,790.7 2043.2,790.7 2043.7,792.6 2045.3,792.5 2046.8,792.3 2048.3,792.5 2049.8,792.2 2051.3,792.4 2052.8,792.2 2053.2,792.4 2053.7,791.1 2054.3,791.1 2054.8,792.4 2055.8,792.1 2057.3,792.3 2058.8,792.1 2060.3,792.2 2061.8,792 2063.3,792.2 2064.8,791.8 2065.4,792.1 2065.9,791 2066.5,791 2066.9,792.1 2067.8,791.7 2069.3,792.1 2070.8,791.6 2072.3,792 2073.8,791.5 2075.3,791.6 2076.8,791.2 2078.3,791.3 2079.1,791.3 2079.5,789.9 2080.1,789.9 2080.6,791.3 2081.3,791.1 2082.8,790.6 2084.3,790.9 2085.8,790.5 2087.3,790.7 2088.1,790.6 2088.5,789.4 2089.1,789.4 2089.6,790.6 2090.3,790.5 2091.8,789.9 2093.3,790.7 2094.8,789.9 2095.7,790.5 2096.1,786.6 2096.7,786.6 2097.2,790.5 2097.8,790 2099.2,790.5 2099.7,788.3 2100.3,788.3 2100.8,790.5 2102.4,790.6 2102.9,787.2 2103.5,787.2 2103.9,790.6 2105.3,790.9 2106.8,790.2 2108.3,790.7 2109.8,789.7 2111.3,790.5 2112.2,790.1 2112.7,787.8 2113.3,787.8 2113.8,790.1 2114.3,790 2115.8,789.5 2117.3,790.1 2118.8,789.1 2119.8,789.6 2120.2,787.7 2120.8,787.7 2121.2,789.6 2121.8,789 2123.3,789.8 2124.8,788.9 2125.2,789.4 2125.7,788 2126.3,788 2126.8,789.4 2127.8,788.7 2129.2,789"/>
<path stroke="#00d418" stroke-width="4.6" style="filter:drop-shadow(0 0 1px #00d41870)" d="M1585.3,766.4 1586.3,768.9 1587.2,768.9 1588.7,758.8 1589.3,758.8 1590.8,767.9 1591.8,767.9 1593.5,758.5 1594.1,758.5 1595.8,766.9 1596.8,766.9 1598.2,758 1599.3,747.2 1600.3,747.2 1601,765.8 1602,765.8 1603.7,757.1 1604.3,757.1 1606,765.9 1607,765.9 1608.2,741 1609.2,741 1611.2,764.8 1612.2,764.8 1613.3,739.7 1614.3,739.7 1615.7,761 1616.3,761 1617.4,747.1 1618.2,747.1 1619,761.7 1619.9,761.7 1621.3,746.8 1622.5,730 1623.5,730 1625.5,748.4 1627.5,718 1628.6,718 1631,748.4 1633.5,712.3 1634.5,712.3 1636,748.4 1637.1,721.9 1638.1,721.9 1638.8,757 1639.6,757 1640.3,730.7 1641.3,730.7 1642.8,748.7 1644.2,717 1645.3,717 1646.5,741.4 1647.8,713.5 1648.8,713.5 1650.3,748.7 1652,746.3 1653.5,759.1 1654.4,759.1 1655.8,746.8 1657,722.7 1658.1,722.7 1659.4,748.7 1660.4,730.9 1661.4,730.9 1662,761.5 1663,761.5 1664.3,752.2 1664.9,752.2 1666.3,767.3 1667.3,767.3 1669.7,753.9 1670.3,753.9 1672.9,768.1 1673.9,768.1 1676,752.2 1676.6,752.2 1678.7,757.7 1679.5,757.7 1680.5,722 1681.6,722 1683.2,754.8 1684,754.8 1685.5,719.9 1686.5,719.9 1688.5,748.7 1690.5,729.1 1691.5,729.1 1693.3,748.7 1695,731.1 1696.1,731.1 1697,756.3 1697.8,756.3 1699.5,746.8 1701.4,742 1702.4,742 1703.3,763.7 1704.2,763.7 1706,742.1 1707,742.1 1708.5,761.2 1709.5,761.2 1711.2,733.1 1712.2,733.1 1713.8,752.2 1715.5,766.8 1716.5,766.8 1718.1,753.9 1718.7,753.9 1720.3,762.7 1721.2,762.7 1723.2,754.4 1723.8,754.4 1725.8,765.6 1726.8,765.6 1728.7,754.2 1729.3,754.2 1731.5,766.1 1732.4,766.1 1734.1,755 1734.7,755 1736.5,767.9 1737.5,767.9 1739.3,756.6 1739.9,756.6 1741.8,767.7 1742.8,767.7 1744.7,755.5 1745.3,755.5 1747.1,768.4 1748,768.4 1749.5,766.4 1750.1,766.4 1751.2,756.1 1751.8,756.1 1753,766.9 1753.6,766.9 1755,769.2 1755.9,769.2 1757.3,767.2 1757.9,767.2 1759.2,756.6 1759.8,756.6 1762,768.5 1762.9,768.5 1764.7,756.6 1765.3,756.6 1767.3,767.8 1768.2,767.8 1769.9,766.9 1770.5,766.9 1771.3,758.8 1771.9,758.8 1773,769.5 1773.9,769.5 1775.5,765.9 1776.1,765.9 1777.3,761.8 1777.9,761.8 1779.5,768.1 1780.5,768.1 1782.1,763.7 1782.7,763.7 1785.1,769.7 1785.7,769.7 1787.2,767.8 1788.8,770.8 1790.3,771.1 1790.5,771.2 1791,769.3 1791.6,769.3 1792,771.2 1793.3,771.4 1794.8,771.3 1796.3,771.6 1797.8,771.4 1798.5,771.6 1799,770.4 1799.6,770.4 1800,771.6 1800.8,771.3 1802.3,771.5 1803.8,771.3 1804.2,771.5 1804.6,770.5 1805.2,770.5 1805.7,771.5 1806.8,771.4 1808.3,771.5 1809.8,771.2 1811.3,771.5 1812.8,771.3 1814.3,771.5 1815.8,771.1 1817,771.4 1817.5,770.3 1818.1,770.3 1818.5,771.4 1818.8,771.2 1820.3,771.5 1821.8,771.2 1823,771.3 1823.5,770 1824.1,770 1824.5,771.3 1824.8,771.1 1826.3,771.3 1827.8,771.1 1829.3,771.3 1830.8,770.9 1832.3,771.2 1833.8,771 1834.3,771.2 1834.8,770.6 1835.4,770.6 1835.8,771.2 1836.8,770.9 1838.3,771.2 1839.8,771 1841.3,771.1 1842.3,771.1 1842.8,769.8 1843.4,769.8 1843.8,771.1 1844.3,771.1 1845.8,770.9 1847.3,771 1848.8,770.8 1850.3,771 1850.7,771 1851.1,770.3 1851.7,770.3 1852.2,771 1853.3,771 1854.8,770.7 1856.3,770.9 1857.8,770.7 1859.3,770.8 1860.8,770.7 1861.5,770.8 1862,770.4 1862.6,770.4 1863,770.8 1863.8,770.6 1865.3,770.7 1866.8,770.6 1868.3,770.6 1869.8,770.6 1870.2,770.3 1870.8,770.3 1871.2,770.6 1872.8,770.5 1874.3,770.5 1875.8,770.4 1877.3,770.4 1878.8,770.2 1880.3,770.1 1881.8,768.7 1883.3,767.1 1884.8,765.3 1886.3,763.6 1887.8,761.8 1889.3,761.1 1890.8,761.1 1892.3,761.7 1893.8,762.3 1895.3,762.3 1895.8,762.1 1896.3,768.8 1896.9,768.8 1897.3,762.1 1898.3,762.1 1899.8,762.4 1901.3,763.3 1902.8,763.5 1904.3,763.6 1905.8,763.7 1907.3,764 1908.8,764.1 1910.3,764.3 1911.8,765 1913.3,765.6 1914.8,766.1 1916.3,766.7 1917.8,767.1 1919.3,767.6 1920.8,768 1922.3,768.3 1923.8,768.7 1925.3,769 1926.8,769.2 1928.3,769.4 1929.8,769.5 1931.3,769.7 1932.8,769.8 1934.3,769.8 1935.8,769.8 1937.3,769.8 1938.8,769.8 1940.3,769.7 1941.8,769.7 1943.3,769.7 1944.8,769.7 1946.3,769.7 1947.8,769.7 1949.3,769.7 1950.8,769.7 1952.3,769.7 1953.8,769.7 1955.3,769.7 1956.8,769.6 1958.3,769.6 1959.8,769.5 1961,769.6 1961.4,769.2 1962,769.2 1962.5,769.6 1962.8,769.5 1964.3,769.6 1965.8,769.5 1967.3,769.6 1968.8,769.5 1970.3,769.5 1971.8,769.5 1973.3,769.5 1974.8,769.4 1976.3,769.4 1977.8,769.3 1979.3,769.3 1979.8,769.3 1980.3,769 1980.9,769 1981.3,769.3 1982.3,769.3 1983.8,769.2 1985.3,769.2 1986.8,769.2 1988.3,769.2 1989.8,769.2 1991.3,769.2 1992.2,769.2 1992.6,768.8 1993.2,768.8 1993.7,769.2 1994.3,769.2 1995.8,769.1 1997.3,769.2 1998.8,769.1 2000.3,769.1 2001.8,769 2003.3,769.1 2004.8,768.9 2006.3,769 2007.8,768.8 2009.3,768.8 2010.8,768.8 2011.3,768.5 2011.9,768.5 2012.3,768.8 2013.8,768.7 2015.3,768.8 2016.8,768.7 2018.3,768.7 2019.2,768.8 2019.7,768.5 2020.3,768.5 2020.8,768.8 2021.3,768.7 2022.8,768.6 2024.3,768.7 2025.8,768.6 2027.3,768.6 2028.8,768.5 2030.5,768.7 2030.9,768.4 2031.5,768.4 2032,768.7 2033.3,768.6 2034.8,768.6 2036.3,768.7 2037.8,768.6 2039.3,768.7 2040.8,768.6 2042.2,768.7 2042.6,767.8 2043.2,767.8 2043.7,768.7 2045.3,768.6 2046.8,768.5 2048.3,768.6 2049.8,768.5 2051.3,768.6 2052.8,768.5 2053.2,768.6 2053.7,768 2054.3,768 2054.8,768.6 2055.8,768.5 2057.3,768.5 2058.8,768.5 2060.3,768.5 2061.8,768.4 2063.3,768.5 2064.8,768.3 2065.4,768.4 2065.9,767.9 2066.5,767.9 2066.9,768.4 2067.8,768.3 2069.3,768.4 2070.8,768.2 2072.3,768.4 2073.8,768.2 2075.3,768.2 2076.8,768 2078.3,768.1 2079.1,768.1 2079.5,767.4 2080.1,767.4 2080.6,768.1 2081.3,768 2082.8,767.8 2084.3,767.9 2085.8,767.7 2087.3,767.8 2088.1,767.8 2088.5,767.2 2089.1,767.2 2089.6,767.8 2090.3,767.7 2091.8,767.4 2093.3,767.8 2094.8,767.4 2095.7,767.7 2096.1,766 2096.7,766 2097.2,767.7 2097.8,767.5 2099.2,767.7 2099.7,766.7 2100.3,766.7 2100.8,767.7 2102.4,767.8 2102.9,766.3 2103.5,766.3 2103.9,767.8 2105.3,767.9 2106.8,767.6 2108.3,767.8 2109.8,767.4 2111.3,767.7 2112.2,767.5 2112.7,766.5 2113.3,766.5 2113.8,767.5 2114.3,767.5 2115.8,767.3 2117.3,767.5 2118.8,767.1 2119.8,767.3 2120.2,766.5 2120.8,766.5 2121.2,767.3 2121.8,767 2123.3,767.4 2124.8,767 2125.2,767.2 2125.7,766.6 2126.3,766.6 2126.8,767.2 2127.8,766.9 2129.2,767.1"/>
<path stroke="#00fbaa" stroke-width="4.6" style="filter:drop-shadow(0 0 1px #00fbaa70)" d="M1585.3,759 1586.3,760.4 1587.2,760.4 1588.7,754.7 1589.3,754.7 1590.8,759.8 1591.8,759.8 1593.5,754.6 1594.1,754.6 1595.8,759.3 1596.8,759.3 1598.2,754.3 1599.3,748.2 1600.3,748.2 1601,758.7 1602,758.7 1603.7,753.8 1604.3,753.8 1606,758.7 1607,758.7 1608.2,744.7 1609.2,744.7 1611.2,758.1 1612.2,758.1 1613.3,744 1614.3,744 1615.7,755.9 1616.3,755.9 1617.4,748.1 1618.2,748.1 1619,756.4 1619.9,756.4 1621.3,748 1622.5,738.5 1623.5,738.5 1625.5,748.9 1627.5,731.8 1628.6,731.8 1631,748.9 1633.5,728.6 1634.5,728.6 1636,748.9 1637.1,734 1638.1,734 1638.8,753.7 1639.6,753.7 1640.3,738.9 1641.3,738.9 1642.8,749.1 1644.2,731.2 1645.3,731.2 1646.5,744.9 1647.8,729.3 1648.8,729.3 1650.3,749.1 1652,747.7 1653.5,754.9 1654.4,754.9 1655.8,748 1657,734.4 1658.1,734.4 1659.4,749.1 1660.4,739 1661.4,739 1662,756.3 1663,756.3 1664.3,751 1664.9,751 1666.3,759.5 1667.3,759.5 1669.7,752 1670.3,752 1672.9,760 1673.9,760 1676,751 1676.6,751 1678.7,754.1 1679.5,754.1 1680.5,734.1 1681.6,734.1 1683.2,752.5 1684,752.5 1685.5,732.8 1686.5,732.8 1688.5,749.1 1690.5,738 1691.5,738 1693.3,749.1 1695,739.1 1696.1,739.1 1697,753.3 1697.8,753.3 1699.5,748 1701.4,745.3 1702.4,745.3 1703.3,757.5 1704.2,757.5 1706,745.3 1707,745.3 1708.5,756.1 1709.5,756.1 1711.2,740.3 1712.2,740.3 1713.8,751 1715.5,759.3 1716.5,759.3 1718.1,752 1718.7,752 1720.3,756.9 1721.2,756.9 1723.2,752.3 1723.8,752.3 1725.8,758.5 1726.8,758.5 1728.7,752.1 1729.3,752.1 1731.5,758.9 1732.4,758.9 1734.1,752.6 1734.7,752.6 1736.5,759.9 1737.5,759.9 1739.3,753.5 1739.9,753.5 1741.8,759.7 1742.8,759.7 1744.7,752.9 1745.3,752.9 1747.1,760.1 1748,760.1 1749.5,759 1750.1,759 1751.2,753.2 1751.8,753.2 1753,759.3 1753.6,759.3 1755,760.6 1755.9,760.6 1757.3,759.5 1757.9,759.5 1759.2,753.5 1759.8,753.5 1762,760.2 1762.9,760.2 1764.7,753.5 1765.3,753.5 1767.3,759.8 1768.2,759.8 1769.9,759.3 1770.5,759.3 1771.3,754.7 1771.9,754.7 1773,760.8 1773.9,760.8 1775.5,758.7 1776.1,758.7 1777.3,756.4 1777.9,756.4 1779.5,760 1780.5,760 1782.1,757.5 1782.7,757.5 1785.1,760.9 1785.7,760.9 1787.2,759.8 1788.8,761.5 1790.3,761.7 1790.5,761.7 1791,760.6 1791.6,760.6 1792,761.7 1793.3,761.8 1794.8,761.8 1796.3,762 1797.8,761.8 1798.5,761.9 1799,761.3 1799.6,761.3 1800,761.9 1800.8,761.8 1802.3,761.9 1803.8,761.8 1804.2,761.9 1804.6,761.3 1805.2,761.3 1805.7,761.9 1806.8,761.8 1808.3,761.9 1809.8,761.7 1811.3,761.9 1812.8,761.7 1814.3,761.9 1815.8,761.7 1817,761.8 1817.5,761.2 1818.1,761.2 1818.5,761.8 1818.8,761.7 1820.3,761.9 1821.8,761.7 1823,761.8 1823.5,761 1824.1,761 1824.5,761.8 1824.8,761.6 1826.3,761.7 1827.8,761.6 1829.3,761.7 1830.8,761.6 1832.3,761.7 1833.8,761.6 1834.3,761.7 1834.8,761.4 1835.4,761.4 1835.8,761.7 1836.8,761.6 1838.3,761.7 1839.8,761.6 1841.3,761.6 1842.3,761.6 1842.8,760.9 1843.4,760.9 1843.8,761.6 1844.3,761.6 1845.8,761.5 1847.3,761.6 1848.8,761.5 1850.3,761.6 1850.7,761.6 1851.1,761.2 1851.7,761.2 1852.2,761.6 1853.3,761.6 1854.8,761.4 1856.3,761.5 1857.8,761.4 1859.3,761.5 1860.8,761.4 1861.5,761.5 1862,761.2 1862.6,761.2 1863,761.5 1863.8,761.4 1865.3,761.4 1866.8,761.4 1868.3,761.4 1869.8,761.4 1870.2,761.2 1870.8,761.2 1871.2,761.4 1872.8,761.3 1874.3,761.3 1875.8,761.3 1877.3,761.2 1878.8,761.1 1880.3,761.1 1881.8,760.3 1883.3,759.4 1884.8,758.4 1886.3,757.4 1887.8,756.4 1889.3,756 1890.8,756 1892.3,756.3 1893.8,756.7 1895.3,756.7 1895.8,756.6 1896.3,760.4 1896.9,760.4 1897.3,756.6 1898.3,756.6 1899.8,756.8 1901.3,757.3 1902.8,757.4 1904.3,757.4 1905.8,757.5 1907.3,757.6 1908.8,757.7 1910.3,757.8 1911.8,758.2 1913.3,758.6 1914.8,758.9 1916.3,759.1 1917.8,759.4 1919.3,759.7 1920.8,759.9 1922.3,760.1 1923.8,760.3 1925.3,760.5 1926.8,760.6 1928.3,760.7 1929.8,760.8 1931.3,760.8 1932.8,760.9 1934.3,760.9 1935.8,760.9 1937.3,760.9 1938.8,760.9 1940.3,760.9 1941.8,760.8 1943.3,760.9 1944.8,760.9 1946.3,760.9 1947.8,760.9 1949.3,760.9 1950.8,760.9 1952.3,760.9 1953.8,760.9 1955.3,760.9 1956.8,760.8 1958.3,760.8 1959.8,760.8 1961,760.8 1961.4,760.6 1962,760.6 1962.5,760.8 1962.8,760.7 1964.3,760.8 1965.8,760.7 1967.3,760.8 1968.8,760.7 1970.3,760.8 1971.8,760.7 1973.3,760.8 1974.8,760.7 1976.3,760.7 1977.8,760.7 1979.3,760.7 1979.8,760.7 1980.3,760.5 1980.9,760.5 1981.3,760.7 1982.3,760.6 1983.8,760.6 1985.3,760.6 1986.8,760.6 1988.3,760.6 1989.8,760.6 1991.3,760.6 1992.2,760.6 1992.6,760.4 1993.2,760.4 1993.7,760.6 1994.3,760.6 1995.8,760.5 1997.3,760.6 1998.8,760.5 2000.3,760.5 2001.8,760.5 2003.3,760.5 2004.8,760.4 2006.3,760.4 2007.8,760.4 2009.3,760.4 2010.8,760.4 2011.3,760.2 2011.9,760.2 2012.3,760.4 2013.8,760.3 2015.3,760.3 2016.8,760.3 2018.3,760.3 2019.2,760.3 2019.7,760.2 2020.3,760.2 2020.8,760.3 2021.3,760.3 2022.8,760.3 2024.3,760.3 2025.8,760.2 2027.3,760.3 2028.8,760.2 2030.5,760.3 2030.9,760.1 2031.5,760.1 2032,760.3 2033.3,760.3 2034.8,760.2 2036.3,760.3 2037.8,760.2 2039.3,760.3 2040.8,760.2 2042.2,760.3 2042.6,759.8 2043.2,759.8 2043.7,760.3 2045.3,760.3 2046.8,760.2 2048.3,760.2 2049.8,760.2 2051.3,760.2 2052.8,760.2 2053.2,760.2 2053.7,759.9 2054.3,759.9 2054.8,760.2 2055.8,760.2 2057.3,760.2 2058.8,760.2 2060.3,760.2 2061.8,760.1 2063.3,760.2 2064.8,760.1 2065.4,760.2 2065.9,759.9 2066.5,759.9 2066.9,760.2 2067.8,760.1 2069.3,760.1 2070.8,760 2072.3,760.1 2073.8,760 2075.3,760 2076.8,759.9 2078.3,760 2079.1,759.9 2079.5,759.6 2080.1,759.6 2080.6,759.9 2081.3,759.9 2082.8,759.8 2084.3,759.9 2085.8,759.7 2087.3,759.8 2088.1,759.8 2088.5,759.5 2089.1,759.5 2089.6,759.8 2090.3,759.8 2091.8,759.6 2093.3,759.8 2094.8,759.6 2095.7,759.7 2096.1,758.8 2096.7,758.8 2097.2,759.7 2097.8,759.6 2099.2,759.8 2099.7,759.2 2100.3,759.2 2100.8,759.8 2102.4,759.8 2102.9,758.9 2103.5,758.9 2103.9,759.8 2105.3,759.9 2106.8,759.7 2108.3,759.8 2109.8,759.6 2111.3,759.7 2112.2,759.7 2112.7,759.1 2113.3,759.1 2113.8,759.7 2114.3,759.6 2115.8,759.5 2117.3,759.6 2118.8,759.4 2119.8,759.5 2120.2,759.1 2120.8,759.1 2121.2,759.5 2121.8,759.4 2123.3,759.6 2124.8,759.3 2125.2,759.5 2125.7,759.1 2126.3,759.1 2126.8,759.5 2127.8,759.3 2129.2,759.4"/>
</g>
<g class="fr"><path class="t" d="M1619,1184.5v-9.6M1619,25.6v9.6M1653,1184.5v-14.9M1653,25.6v14.9M1687,1184.5v-9.6M1687,25.6v9.6M1721,1184.5v-9.6M1721,25.6v9.6M1755.1,1184.5v-9.6M1755.1,25.6v9.6M1789.1,1184.5v-14.9M1789.1,25.6v14.9M1823.1,1184.5v-9.6M1823.1,25.6v9.6M1857.1,1184.5v-9.6M1857.1,25.6v9.6M1891.1,1184.5v-9.6M1891.1,25.6v9.6M1925.1,1184.5v-14.9M1925.1,25.6v14.9M1959.1,1184.5v-9.6M1959.1,25.6v9.6M1993.1,1184.5v-9.6M1993.1,25.6v9.6M2027.2,1184.5v-9.6M2027.2,25.6v9.6M2061.2,1184.5v-14.9M2061.2,25.6v14.9M2095.2,1184.5v-9.6M2095.2,25.6v9.6M1583.2,1182.8h14.9M2130.9,1182.8h-14.9M1583.2,1153.9h9.6M2130.9,1153.9h-9.6M1583.2,1125h9.6M2130.9,1125h-9.6M1583.2,1096.1h9.6M2130.9,1096.1h-9.6M1583.2,1067.2h9.6M2130.9,1067.2h-9.6M1583.2,1038.4h14.9M2130.9,1038.4h-14.9M1583.2,1009.5h9.6M2130.9,1009.5h-9.6M1583.2,980.6h9.6M2130.9,980.6h-9.6M1583.2,951.7h9.6M2130.9,951.7h-9.6M1583.2,922.8h9.6M2130.9,922.8h-9.6M1583.2,893.9h14.9M2130.9,893.9h-14.9M1583.2,865h9.6M2130.9,865h-9.6M1583.2,836.1h9.6M2130.9,836.1h-9.6M1583.2,807.3h9.6M2130.9,807.3h-9.6M1583.2,778.4h9.6M2130.9,778.4h-9.6M1583.2,749.5h14.9M2130.9,749.5h-14.9M1583.2,720.6h9.6M2130.9,720.6h-9.6M1583.2,691.7h9.6M2130.9,691.7h-9.6M1583.2,662.8h9.6M2130.9,662.8h-9.6M1583.2,633.9h9.6M2130.9,633.9h-9.6M1583.2,605h14.9M2130.9,605h-14.9M1583.2,576.2h9.6M2130.9,576.2h-9.6M1583.2,547.3h9.6M2130.9,547.3h-9.6M1583.2,518.4h9.6M2130.9,518.4h-9.6M1583.2,489.5h9.6M2130.9,489.5h-9.6M1583.2,460.6h14.9M2130.9,460.6h-14.9M1583.2,431.7h9.6M2130.9,431.7h-9.6M1583.2,402.8h9.6M2130.9,402.8h-9.6M1583.2,373.9h9.6M2130.9,373.9h-9.6M1583.2,345.1h9.6M2130.9,345.1h-9.6M1583.2,316.2h14.9M2130.9,316.2h-14.9M1583.2,287.3h9.6M2130.9,287.3h-9.6M1583.2,258.4h9.6M2130.9,258.4h-9.6M1583.2,229.5h9.6M2130.9,229.5h-9.6M1583.2,200.6h9.6M2130.9,200.6h-9.6M1583.2,171.7h14.9M2130.9,171.7h-14.9M1583.2,142.8h9.6M2130.9,142.8h-9.6M1583.2,114h9.6M2130.9,114h-9.6M1583.2,85.1h9.6M2130.9,85.1h-9.6M1583.2,56.2h9.6M2130.9,56.2h-9.6M1583.2,27.3h14.9M2130.9,27.3h-14.9"/>
<rect class="ax" x="1585" y="27.3" width="544.2" height="1155.5"/></g>
<text class="tk" text-anchor="middle" transform="translate(1653,1232.7) scale(.955,1)">6</text>
<text class="tk" text-anchor="middle" transform="translate(1789.1,1232.7) scale(.955,1)">8</text>
<text class="tk" text-anchor="middle" transform="translate(1925.1,1232.7) scale(.955,1)">10</text>
<text class="tk" text-anchor="middle" transform="translate(2061.2,1232.7) scale(.955,1)">12</text>
<text class="tk" text-anchor="end" transform="translate(1571.8,1197.1) scale(.955,1)">−0.15</text>
<text class="tk" text-anchor="end" transform="translate(1571.8,1052.7) scale(.955,1)">−0.1</text>
<text class="tk" text-anchor="end" transform="translate(1571.8,908.2) scale(.955,1)">−0.05</text>
<text class="tk" text-anchor="end" transform="translate(1571.8,763.8) scale(.955,1)">0</text>
<text class="tk" text-anchor="end" transform="translate(1571.8,619.3) scale(.955,1)">0.05</text>
<text class="tk" text-anchor="end" transform="translate(1571.8,474.9) scale(.955,1)">0.1</text>
<text class="tk" text-anchor="end" transform="translate(1571.8,330.5) scale(.955,1)">0.15</text>
<text class="tk" text-anchor="end" transform="translate(1571.8,186) scale(.955,1)">0.2</text>
<text class="tk" text-anchor="end" transform="translate(1571.8,41.6) scale(.955,1)">0.25</text>
<rect x="469.5" y="56.8" width="202.1" height="620.2" fill="#fff" stroke="#262626" stroke-width="3.6"/>
<path d="M480.2,85.2H594.5" stroke="#000000" stroke-width="3.6" fill="none"/>
<text class="lg" x="601.6" y="99">70</text>
<path d="M480.2,132.1H594.5" stroke="#ff1848" stroke-width="3.6" fill="none"/>
<text class="lg" x="601.6" y="145.9">80</text>
<path d="M480.2,179.1H594.5" stroke="#08089a" stroke-width="3.6" fill="none"/>
<text class="lg" x="601.6" y="192.9">90</text>
<path d="M480.2,226H594.5" stroke="#ff2ee0" stroke-width="3.6" fill="none"/>
<text class="lg" x="601.6" y="239.8">100</text>
<path d="M480.2,273H594.5" stroke="#007a32" stroke-width="3.6" fill="none"/>
<text class="lg" x="601.6" y="286.8">110</text>
<path d="M480.2,319.9H594.5" stroke="#646464" stroke-width="3.6" fill="none"/>
<text class="lg" x="601.6" y="333.7">120</text>
<path d="M480.2,366.8H594.5" stroke="#2e24ff" stroke-width="3.6" fill="none"/>
<text class="lg" x="601.6" y="380.6">130</text>
<path d="M480.2,413.8H594.5" stroke="#30a6ff" stroke-width="3.6" fill="none"/>
<text class="lg" x="601.6" y="427.6">140</text>
<path d="M480.2,460.7H594.5" stroke="#a2660c" stroke-width="3.6" fill="none"/>
<text class="lg" x="601.6" y="474.5">150</text>
<path d="M480.2,507.7H594.5" stroke="#ff6a00" stroke-width="3.6" fill="none"/>
<text class="lg" x="601.6" y="521.5">160</text>
<path d="M480.2,554.6H594.5" stroke="#ffa091" stroke-width="3.6" fill="none"/>
<text class="lg" x="601.6" y="568.4">200</text>
<path d="M480.2,601.5H594.5" stroke="#00d418" stroke-width="4.8" fill="none"/>
<text class="lg" x="601.6" y="615.3">300</text>
<path d="M480.2,648.5H594.5" stroke="#00fbaa" stroke-width="4.8" fill="none"/>
<text class="lg" x="601.6" y="662.3">400</text>
<text class="al" text-anchor="middle" transform="translate(56.6,606.5) rotate(-90)">Contrast Ratio</text>
<text class="al" style="font-size:52.3px" text-anchor="middle" x="1140.3" y="1294.8">Wavelength (µm)</text>
</svg></body></html>
